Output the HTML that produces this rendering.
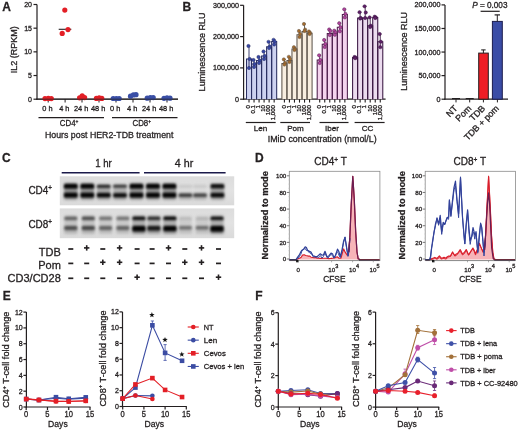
<!DOCTYPE html>
<html><head><meta charset="utf-8"><style>
html,body{margin:0;padding:0;background:#fff;width:520px;height:432px;overflow:hidden}
svg{display:block;filter:blur(0.35px);font-family:"Liberation Sans",sans-serif}
text{stroke:#231f20;stroke-width:0.3px;paint-order:stroke}
</style></head><body>
<svg width="520" height="432" viewBox="0 0 520 432" fill="#231f20">
<text x="2.30" y="10.80" font-size="13.2" font-weight="bold" textLength="8.66" lengthAdjust="spacingAndGlyphs">A</text>
<line x1="37.00" y1="4.50" x2="37.00" y2="99.80" stroke="#231f20" stroke-width="1.2" />
<line x1="33.50" y1="99.20" x2="37.00" y2="99.20" stroke="#231f20" stroke-width="1.2" />
<text x="32.00" y="101.70" font-size="7" text-anchor="end">0</text>
<line x1="33.50" y1="75.53" x2="37.00" y2="75.53" stroke="#231f20" stroke-width="1.2" />
<text x="32.00" y="78.03" font-size="7" text-anchor="end">5</text>
<line x1="33.50" y1="51.85" x2="37.00" y2="51.85" stroke="#231f20" stroke-width="1.2" />
<text x="32.00" y="54.35" font-size="7" text-anchor="end">10</text>
<line x1="33.50" y1="28.17" x2="37.00" y2="28.17" stroke="#231f20" stroke-width="1.2" />
<text x="32.00" y="30.67" font-size="7" text-anchor="end">15</text>
<line x1="33.50" y1="4.50" x2="37.00" y2="4.50" stroke="#231f20" stroke-width="1.2" />
<text x="32.00" y="7.00" font-size="7" text-anchor="end">20</text>
<text x="17.20" y="49.80" font-size="9" text-anchor="middle" transform="rotate(-90 17.20 49.80)">IL2 (RPKM)</text>
<line x1="36.40" y1="99.20" x2="178.00" y2="99.20" stroke="#231f20" stroke-width="1.2" />
<line x1="48.20" y1="99.20" x2="48.20" y2="102.50" stroke="#231f20" stroke-width="1" />
<text x="47.40" y="111.30" font-size="7.4" text-anchor="middle">0 h</text>
<line x1="65.10" y1="99.20" x2="65.10" y2="102.50" stroke="#231f20" stroke-width="1" />
<text x="64.30" y="111.30" font-size="7.4" text-anchor="middle">4 h</text>
<line x1="82.00" y1="99.20" x2="82.00" y2="102.50" stroke="#231f20" stroke-width="1" />
<text x="81.20" y="111.30" font-size="7.4" text-anchor="middle">24 h</text>
<line x1="99.00" y1="99.20" x2="99.00" y2="102.50" stroke="#231f20" stroke-width="1" />
<text x="98.20" y="111.30" font-size="7.4" text-anchor="middle">48 h</text>
<line x1="116.00" y1="99.20" x2="116.00" y2="102.50" stroke="#231f20" stroke-width="1" />
<text x="115.20" y="111.30" font-size="7.4" text-anchor="middle">0 h</text>
<line x1="133.00" y1="99.20" x2="133.00" y2="102.50" stroke="#231f20" stroke-width="1" />
<text x="132.20" y="111.30" font-size="7.4" text-anchor="middle">4 h</text>
<line x1="150.00" y1="99.20" x2="150.00" y2="102.50" stroke="#231f20" stroke-width="1" />
<text x="149.20" y="111.30" font-size="7.4" text-anchor="middle">24 h</text>
<line x1="167.00" y1="99.20" x2="167.00" y2="102.50" stroke="#231f20" stroke-width="1" />
<text x="166.20" y="111.30" font-size="7.4" text-anchor="middle">48 h</text>
<line x1="38.50" y1="117.60" x2="104.00" y2="117.60" stroke="#231f20" stroke-width="1.2" />
<line x1="112.00" y1="117.60" x2="177.50" y2="117.60" stroke="#231f20" stroke-width="1.2" />
<text x="69.10" y="126.40" font-size="8.6" text-anchor="middle" textLength="18.6" lengthAdjust="spacingAndGlyphs">CD4<tspan font-size="5.4" dy="-3.4">+</tspan></text>
<text x="141.80" y="126.40" font-size="8.6" text-anchor="middle" textLength="18.6" lengthAdjust="spacingAndGlyphs">CD8<tspan font-size="5.4" dy="-3.4">+</tspan></text>
<text x="45.00" y="137.90" font-size="9.1" textLength="128.4" lengthAdjust="spacingAndGlyphs">Hours post HER2-TDB treatment</text>
<circle cx="45.00" cy="98.60" r="2.6" fill="#e31f26" />
<circle cx="48.30" cy="98.40" r="2.6" fill="#e31f26" />
<circle cx="51.30" cy="98.60" r="2.6" fill="#e31f26" />
<circle cx="79.60" cy="97.80" r="2.6" fill="#e31f26" />
<circle cx="82.20" cy="95.90" r="2.6" fill="#e31f26" />
<circle cx="84.60" cy="97.60" r="2.6" fill="#e31f26" />
<circle cx="96.40" cy="98.40" r="2.6" fill="#e31f26" />
<circle cx="99.20" cy="97.90" r="2.6" fill="#e31f26" />
<circle cx="101.80" cy="98.40" r="2.6" fill="#e31f26" />
<line x1="58.70" y1="29.30" x2="71.30" y2="29.30" stroke="#231f20" stroke-width="1.1" />
<circle cx="64.80" cy="10.10" r="2.6" fill="#e31f26" />
<circle cx="68.00" cy="29.60" r="2.6" fill="#e31f26" />
<circle cx="62.20" cy="33.40" r="2.6" fill="#e31f26" />
<circle cx="113.20" cy="98.50" r="2.6" fill="#3a4fa6" />
<circle cx="116.30" cy="98.50" r="2.6" fill="#3a4fa6" />
<circle cx="119.20" cy="98.50" r="2.6" fill="#3a4fa6" />
<circle cx="130.50" cy="96.20" r="2.6" fill="#3a4fa6" />
<circle cx="133.40" cy="94.90" r="2.6" fill="#3a4fa6" />
<circle cx="136.00" cy="94.70" r="2.6" fill="#3a4fa6" />
<circle cx="147.20" cy="98.20" r="2.6" fill="#3a4fa6" />
<circle cx="150.30" cy="97.60" r="2.6" fill="#3a4fa6" />
<circle cx="153.20" cy="97.60" r="2.6" fill="#3a4fa6" />
<circle cx="164.00" cy="98.30" r="2.6" fill="#3a4fa6" />
<circle cx="167.00" cy="97.80" r="2.6" fill="#3a4fa6" />
<circle cx="170.00" cy="98.20" r="2.6" fill="#3a4fa6" />
<line x1="36.40" y1="99.20" x2="178.00" y2="99.20" stroke="#231f20" stroke-width="1.0" stroke-opacity="0.75"/>
<text x="182.40" y="10.90" font-size="13.2" font-weight="bold" textLength="8.66" lengthAdjust="spacingAndGlyphs">B</text>
<line x1="243.60" y1="5.30" x2="243.60" y2="99.80" stroke="#231f20" stroke-width="1.2" />
<line x1="240.10" y1="99.20" x2="243.60" y2="99.20" stroke="#231f20" stroke-width="1.2" />
<text x="239.10" y="101.70" font-size="7.2" text-anchor="end">0</text>
<line x1="240.10" y1="67.90" x2="243.60" y2="67.90" stroke="#231f20" stroke-width="1.2" />
<text x="239.10" y="70.40" font-size="7.2" text-anchor="end">100,000</text>
<line x1="240.10" y1="36.60" x2="243.60" y2="36.60" stroke="#231f20" stroke-width="1.2" />
<text x="239.10" y="39.10" font-size="7.2" text-anchor="end">200,000</text>
<line x1="240.10" y1="5.30" x2="243.60" y2="5.30" stroke="#231f20" stroke-width="1.2" />
<text x="239.10" y="7.80" font-size="7.2" text-anchor="end">300,000</text>
<text x="205.40" y="51.90" font-size="9.05" text-anchor="middle" transform="rotate(-90 205.40 51.90)">Luminescence RLU</text>
<line x1="243.00" y1="99.20" x2="385.60" y2="99.20" stroke="#231f20" stroke-width="1.2" />
<rect x="246.50" y="59.00" width="5.03" height="40.20" fill="#cdd2f0" />
<rect x="251.53" y="64.00" width="5.03" height="35.20" fill="#cdd2f0" />
<rect x="256.56" y="60.50" width="5.03" height="38.70" fill="#cdd2f0" />
<rect x="261.59" y="56.00" width="5.03" height="43.20" fill="#cdd2f0" />
<rect x="266.62" y="46.80" width="5.03" height="52.40" fill="#cdd2f0" />
<rect x="271.65" y="41.50" width="5.03" height="57.70" fill="#cdd2f0" />
<path d="M246.50 99.20V59.00H251.53V99.20" fill="none" stroke="#2a2f62" stroke-width="1.05"/>
<path d="M251.53 99.20V64.00H256.56V99.20" fill="none" stroke="#2a2f62" stroke-width="1.05"/>
<path d="M256.56 99.20V60.50H261.59V99.20" fill="none" stroke="#2a2f62" stroke-width="1.05"/>
<path d="M261.59 99.20V56.00H266.62V99.20" fill="none" stroke="#2a2f62" stroke-width="1.05"/>
<path d="M266.62 99.20V46.80H271.65V99.20" fill="none" stroke="#2a2f62" stroke-width="1.05"/>
<path d="M271.65 99.20V41.50H276.68V99.20" fill="none" stroke="#2a2f62" stroke-width="1.05"/>
<line x1="249.01" y1="46.00" x2="249.01" y2="68.00" stroke="#2a2f62" stroke-width="0.9" />
<line x1="247.71" y1="46.00" x2="250.31" y2="46.00" stroke="#2a2f62" stroke-width="0.9" />
<line x1="247.71" y1="68.00" x2="250.31" y2="68.00" stroke="#2a2f62" stroke-width="0.9" />
<circle cx="248.41" cy="46.00" r="1.65" fill="#3848a5" stroke="#2a2f62" stroke-width="0.45"/>
<circle cx="249.61" cy="59.00" r="1.65" fill="#3848a5" stroke="#2a2f62" stroke-width="0.45"/>
<circle cx="249.01" cy="68.00" r="1.65" fill="#3848a5" stroke="#2a2f62" stroke-width="0.45"/>
<line x1="249.01" y1="99.20" x2="249.01" y2="102.60" stroke="#231f20" stroke-width="1.1" />
<text x="250.31" y="105.00" font-size="6.1" text-anchor="end" transform="rotate(-90 250.31 105.00)">0</text>
<line x1="254.04" y1="60.00" x2="254.04" y2="67.00" stroke="#2a2f62" stroke-width="0.9" />
<line x1="252.74" y1="60.00" x2="255.34" y2="60.00" stroke="#2a2f62" stroke-width="0.9" />
<line x1="252.74" y1="67.00" x2="255.34" y2="67.00" stroke="#2a2f62" stroke-width="0.9" />
<circle cx="253.44" cy="60.00" r="1.65" fill="#3848a5" stroke="#2a2f62" stroke-width="0.45"/>
<circle cx="254.64" cy="64.00" r="1.65" fill="#3848a5" stroke="#2a2f62" stroke-width="0.45"/>
<circle cx="254.04" cy="67.00" r="1.65" fill="#3848a5" stroke="#2a2f62" stroke-width="0.45"/>
<line x1="254.04" y1="99.20" x2="254.04" y2="102.60" stroke="#231f20" stroke-width="1.1" />
<text x="255.34" y="105.00" font-size="6.1" text-anchor="end" transform="rotate(-90 255.34 105.00)">0.1</text>
<line x1="259.07" y1="57.00" x2="259.07" y2="63.00" stroke="#2a2f62" stroke-width="0.9" />
<line x1="257.77" y1="57.00" x2="260.38" y2="57.00" stroke="#2a2f62" stroke-width="0.9" />
<line x1="257.77" y1="63.00" x2="260.38" y2="63.00" stroke="#2a2f62" stroke-width="0.9" />
<circle cx="258.47" cy="57.00" r="1.65" fill="#3848a5" stroke="#2a2f62" stroke-width="0.45"/>
<circle cx="259.68" cy="60.50" r="1.65" fill="#3848a5" stroke="#2a2f62" stroke-width="0.45"/>
<circle cx="259.07" cy="63.00" r="1.65" fill="#3848a5" stroke="#2a2f62" stroke-width="0.45"/>
<line x1="259.07" y1="99.20" x2="259.07" y2="102.60" stroke="#231f20" stroke-width="1.1" />
<text x="260.38" y="105.00" font-size="6.1" text-anchor="end" transform="rotate(-90 260.38 105.00)">1</text>
<line x1="264.10" y1="51.50" x2="264.10" y2="59.00" stroke="#2a2f62" stroke-width="0.9" />
<line x1="262.80" y1="51.50" x2="265.40" y2="51.50" stroke="#2a2f62" stroke-width="0.9" />
<line x1="262.80" y1="59.00" x2="265.40" y2="59.00" stroke="#2a2f62" stroke-width="0.9" />
<circle cx="263.50" cy="51.50" r="1.65" fill="#3848a5" stroke="#2a2f62" stroke-width="0.45"/>
<circle cx="264.70" cy="56.00" r="1.65" fill="#3848a5" stroke="#2a2f62" stroke-width="0.45"/>
<circle cx="264.10" cy="59.00" r="1.65" fill="#3848a5" stroke="#2a2f62" stroke-width="0.45"/>
<line x1="264.10" y1="99.20" x2="264.10" y2="102.60" stroke="#231f20" stroke-width="1.1" />
<text x="265.40" y="105.00" font-size="6.1" text-anchor="end" transform="rotate(-90 265.40 105.00)">10</text>
<line x1="269.13" y1="41.80" x2="269.13" y2="48.00" stroke="#2a2f62" stroke-width="0.9" />
<line x1="267.83" y1="41.80" x2="270.44" y2="41.80" stroke="#2a2f62" stroke-width="0.9" />
<line x1="267.83" y1="48.00" x2="270.44" y2="48.00" stroke="#2a2f62" stroke-width="0.9" />
<circle cx="268.53" cy="41.80" r="1.65" fill="#3848a5" stroke="#2a2f62" stroke-width="0.45"/>
<circle cx="269.74" cy="46.50" r="1.65" fill="#3848a5" stroke="#2a2f62" stroke-width="0.45"/>
<circle cx="269.13" cy="48.00" r="1.65" fill="#3848a5" stroke="#2a2f62" stroke-width="0.45"/>
<line x1="269.13" y1="99.20" x2="269.13" y2="102.60" stroke="#231f20" stroke-width="1.1" />
<text x="270.44" y="105.00" font-size="6.1" text-anchor="end" transform="rotate(-90 270.44 105.00)">100</text>
<line x1="274.16" y1="39.80" x2="274.16" y2="44.50" stroke="#2a2f62" stroke-width="0.9" />
<line x1="272.86" y1="39.80" x2="275.46" y2="39.80" stroke="#2a2f62" stroke-width="0.9" />
<line x1="272.86" y1="44.50" x2="275.46" y2="44.50" stroke="#2a2f62" stroke-width="0.9" />
<circle cx="273.56" cy="39.80" r="1.65" fill="#3848a5" stroke="#2a2f62" stroke-width="0.45"/>
<circle cx="274.76" cy="41.60" r="1.65" fill="#3848a5" stroke="#2a2f62" stroke-width="0.45"/>
<circle cx="274.16" cy="44.50" r="1.65" fill="#3848a5" stroke="#2a2f62" stroke-width="0.45"/>
<line x1="274.16" y1="99.20" x2="274.16" y2="102.60" stroke="#231f20" stroke-width="1.1" />
<text x="275.46" y="105.00" font-size="6.1" text-anchor="end" transform="rotate(-90 275.46 105.00)">1,000</text>
<line x1="245.80" y1="122.50" x2="275.70" y2="122.50" stroke="#231f20" stroke-width="1.2" />
<text x="260.50" y="131.20" font-size="8.1" text-anchor="middle">Len</text>
<rect x="281.90" y="63.40" width="5.03" height="35.80" fill="#f8eee0" />
<rect x="286.93" y="60.50" width="5.03" height="38.70" fill="#f8eee0" />
<rect x="291.96" y="49.00" width="5.03" height="50.20" fill="#f8eee0" />
<rect x="296.99" y="34.80" width="5.03" height="64.40" fill="#f8eee0" />
<rect x="302.02" y="31.60" width="5.03" height="67.60" fill="#f8eee0" />
<rect x="307.05" y="33.30" width="5.03" height="65.90" fill="#f8eee0" />
<path d="M281.90 99.20V63.40H286.93V99.20" fill="none" stroke="#5e554c" stroke-width="1.05"/>
<path d="M286.93 99.20V60.50H291.96V99.20" fill="none" stroke="#5e554c" stroke-width="1.05"/>
<path d="M291.96 99.20V49.00H296.99V99.20" fill="none" stroke="#5e554c" stroke-width="1.05"/>
<path d="M296.99 99.20V34.80H302.02V99.20" fill="none" stroke="#5e554c" stroke-width="1.05"/>
<path d="M302.02 99.20V31.60H307.05V99.20" fill="none" stroke="#5e554c" stroke-width="1.05"/>
<path d="M307.05 99.20V33.30H312.08V99.20" fill="none" stroke="#5e554c" stroke-width="1.05"/>
<line x1="284.41" y1="59.40" x2="284.41" y2="64.60" stroke="#5e554c" stroke-width="0.9" />
<line x1="283.11" y1="59.40" x2="285.71" y2="59.40" stroke="#5e554c" stroke-width="0.9" />
<line x1="283.11" y1="64.60" x2="285.71" y2="64.60" stroke="#5e554c" stroke-width="0.9" />
<circle cx="283.81" cy="59.40" r="1.65" fill="#a46b2c" stroke="#5e554c" stroke-width="0.45"/>
<circle cx="285.01" cy="63.00" r="1.65" fill="#a46b2c" stroke="#5e554c" stroke-width="0.45"/>
<circle cx="284.41" cy="64.60" r="1.65" fill="#a46b2c" stroke="#5e554c" stroke-width="0.45"/>
<line x1="284.41" y1="99.20" x2="284.41" y2="102.60" stroke="#231f20" stroke-width="1.1" />
<text x="285.71" y="105.00" font-size="6.1" text-anchor="end" transform="rotate(-90 285.71 105.00)">0</text>
<line x1="289.44" y1="56.80" x2="289.44" y2="62.00" stroke="#5e554c" stroke-width="0.9" />
<line x1="288.14" y1="56.80" x2="290.74" y2="56.80" stroke="#5e554c" stroke-width="0.9" />
<line x1="288.14" y1="62.00" x2="290.74" y2="62.00" stroke="#5e554c" stroke-width="0.9" />
<circle cx="288.84" cy="56.80" r="1.65" fill="#a46b2c" stroke="#5e554c" stroke-width="0.45"/>
<circle cx="290.04" cy="59.00" r="1.65" fill="#a46b2c" stroke="#5e554c" stroke-width="0.45"/>
<circle cx="289.44" cy="62.00" r="1.65" fill="#a46b2c" stroke="#5e554c" stroke-width="0.45"/>
<line x1="289.44" y1="99.20" x2="289.44" y2="102.60" stroke="#231f20" stroke-width="1.1" />
<text x="290.74" y="105.00" font-size="6.1" text-anchor="end" transform="rotate(-90 290.74 105.00)">0.1</text>
<line x1="294.47" y1="47.20" x2="294.47" y2="50.00" stroke="#5e554c" stroke-width="0.9" />
<line x1="293.17" y1="47.20" x2="295.77" y2="47.20" stroke="#5e554c" stroke-width="0.9" />
<line x1="293.17" y1="50.00" x2="295.77" y2="50.00" stroke="#5e554c" stroke-width="0.9" />
<circle cx="293.87" cy="47.20" r="1.65" fill="#a46b2c" stroke="#5e554c" stroke-width="0.45"/>
<circle cx="295.07" cy="49.00" r="1.65" fill="#a46b2c" stroke="#5e554c" stroke-width="0.45"/>
<circle cx="294.47" cy="50.00" r="1.65" fill="#a46b2c" stroke="#5e554c" stroke-width="0.45"/>
<line x1="294.47" y1="99.20" x2="294.47" y2="102.60" stroke="#231f20" stroke-width="1.1" />
<text x="295.77" y="105.00" font-size="6.1" text-anchor="end" transform="rotate(-90 295.77 105.00)">1</text>
<line x1="299.50" y1="31.00" x2="299.50" y2="37.00" stroke="#5e554c" stroke-width="0.9" />
<line x1="298.20" y1="31.00" x2="300.80" y2="31.00" stroke="#5e554c" stroke-width="0.9" />
<line x1="298.20" y1="37.00" x2="300.80" y2="37.00" stroke="#5e554c" stroke-width="0.9" />
<circle cx="298.90" cy="31.00" r="1.65" fill="#a46b2c" stroke="#5e554c" stroke-width="0.45"/>
<circle cx="300.10" cy="34.00" r="1.65" fill="#a46b2c" stroke="#5e554c" stroke-width="0.45"/>
<circle cx="299.50" cy="37.00" r="1.65" fill="#a46b2c" stroke="#5e554c" stroke-width="0.45"/>
<line x1="299.50" y1="99.20" x2="299.50" y2="102.60" stroke="#231f20" stroke-width="1.1" />
<text x="300.80" y="105.00" font-size="6.1" text-anchor="end" transform="rotate(-90 300.80 105.00)">10</text>
<line x1="304.53" y1="24.00" x2="304.53" y2="31.00" stroke="#5e554c" stroke-width="0.9" />
<line x1="303.23" y1="24.00" x2="305.83" y2="24.00" stroke="#5e554c" stroke-width="0.9" />
<line x1="303.23" y1="31.00" x2="305.83" y2="31.00" stroke="#5e554c" stroke-width="0.9" />
<circle cx="303.93" cy="24.00" r="1.65" fill="#a46b2c" stroke="#5e554c" stroke-width="0.45"/>
<circle cx="305.13" cy="29.60" r="1.65" fill="#a46b2c" stroke="#5e554c" stroke-width="0.45"/>
<circle cx="304.53" cy="31.00" r="1.65" fill="#a46b2c" stroke="#5e554c" stroke-width="0.45"/>
<line x1="304.53" y1="99.20" x2="304.53" y2="102.60" stroke="#231f20" stroke-width="1.1" />
<text x="305.83" y="105.00" font-size="6.1" text-anchor="end" transform="rotate(-90 305.83 105.00)">100</text>
<line x1="309.56" y1="31.50" x2="309.56" y2="34.00" stroke="#5e554c" stroke-width="0.9" />
<line x1="308.26" y1="31.50" x2="310.86" y2="31.50" stroke="#5e554c" stroke-width="0.9" />
<line x1="308.26" y1="34.00" x2="310.86" y2="34.00" stroke="#5e554c" stroke-width="0.9" />
<circle cx="308.96" cy="31.50" r="1.65" fill="#a46b2c" stroke="#5e554c" stroke-width="0.45"/>
<circle cx="310.16" cy="33.00" r="1.65" fill="#a46b2c" stroke="#5e554c" stroke-width="0.45"/>
<circle cx="309.56" cy="34.00" r="1.65" fill="#a46b2c" stroke="#5e554c" stroke-width="0.45"/>
<line x1="309.56" y1="99.20" x2="309.56" y2="102.60" stroke="#231f20" stroke-width="1.1" />
<text x="310.86" y="105.00" font-size="6.1" text-anchor="end" transform="rotate(-90 310.86 105.00)">1,000</text>
<line x1="280.30" y1="122.50" x2="310.00" y2="122.50" stroke="#231f20" stroke-width="1.2" />
<text x="295.50" y="131.20" font-size="8.1" text-anchor="middle">Pom</text>
<rect x="317.20" y="60.00" width="5.03" height="39.20" fill="#f4d4ee" />
<rect x="322.23" y="44.30" width="5.03" height="54.90" fill="#f4d4ee" />
<rect x="327.26" y="33.50" width="5.03" height="65.70" fill="#f4d4ee" />
<rect x="332.29" y="33.00" width="5.03" height="66.20" fill="#f4d4ee" />
<rect x="337.32" y="27.20" width="5.03" height="72.00" fill="#f4d4ee" />
<rect x="342.35" y="14.50" width="5.03" height="84.70" fill="#f4d4ee" />
<path d="M317.20 99.20V60.00H322.23V99.20" fill="none" stroke="#4e1e4c" stroke-width="1.05"/>
<path d="M322.23 99.20V44.30H327.26V99.20" fill="none" stroke="#4e1e4c" stroke-width="1.05"/>
<path d="M327.26 99.20V33.50H332.29V99.20" fill="none" stroke="#4e1e4c" stroke-width="1.05"/>
<path d="M332.29 99.20V33.00H337.32V99.20" fill="none" stroke="#4e1e4c" stroke-width="1.05"/>
<path d="M337.32 99.20V27.20H342.35V99.20" fill="none" stroke="#4e1e4c" stroke-width="1.05"/>
<path d="M342.35 99.20V14.50H347.38V99.20" fill="none" stroke="#4e1e4c" stroke-width="1.05"/>
<line x1="319.71" y1="55.30" x2="319.71" y2="63.00" stroke="#4e1e4c" stroke-width="0.9" />
<line x1="318.41" y1="55.30" x2="321.01" y2="55.30" stroke="#4e1e4c" stroke-width="0.9" />
<line x1="318.41" y1="63.00" x2="321.01" y2="63.00" stroke="#4e1e4c" stroke-width="0.9" />
<circle cx="319.11" cy="55.30" r="1.65" fill="#b0449c" stroke="#4e1e4c" stroke-width="0.45"/>
<circle cx="320.31" cy="60.00" r="1.65" fill="#b0449c" stroke="#4e1e4c" stroke-width="0.45"/>
<circle cx="319.71" cy="63.00" r="1.65" fill="#b0449c" stroke="#4e1e4c" stroke-width="0.45"/>
<line x1="319.71" y1="99.20" x2="319.71" y2="102.60" stroke="#231f20" stroke-width="1.1" />
<text x="321.01" y="105.00" font-size="6.1" text-anchor="end" transform="rotate(-90 321.01 105.00)">0</text>
<line x1="324.74" y1="40.00" x2="324.74" y2="47.00" stroke="#4e1e4c" stroke-width="0.9" />
<line x1="323.44" y1="40.00" x2="326.04" y2="40.00" stroke="#4e1e4c" stroke-width="0.9" />
<line x1="323.44" y1="47.00" x2="326.04" y2="47.00" stroke="#4e1e4c" stroke-width="0.9" />
<circle cx="324.14" cy="40.00" r="1.65" fill="#b0449c" stroke="#4e1e4c" stroke-width="0.45"/>
<circle cx="325.34" cy="44.00" r="1.65" fill="#b0449c" stroke="#4e1e4c" stroke-width="0.45"/>
<circle cx="324.74" cy="47.00" r="1.65" fill="#b0449c" stroke="#4e1e4c" stroke-width="0.45"/>
<line x1="324.74" y1="99.20" x2="324.74" y2="102.60" stroke="#231f20" stroke-width="1.1" />
<text x="326.04" y="105.00" font-size="6.1" text-anchor="end" transform="rotate(-90 326.04 105.00)">0.1</text>
<line x1="329.77" y1="29.50" x2="329.77" y2="35.00" stroke="#4e1e4c" stroke-width="0.9" />
<line x1="328.47" y1="29.50" x2="331.07" y2="29.50" stroke="#4e1e4c" stroke-width="0.9" />
<line x1="328.47" y1="35.00" x2="331.07" y2="35.00" stroke="#4e1e4c" stroke-width="0.9" />
<circle cx="329.17" cy="29.50" r="1.65" fill="#b0449c" stroke="#4e1e4c" stroke-width="0.45"/>
<circle cx="330.38" cy="31.00" r="1.65" fill="#b0449c" stroke="#4e1e4c" stroke-width="0.45"/>
<circle cx="329.77" cy="35.00" r="1.65" fill="#b0449c" stroke="#4e1e4c" stroke-width="0.45"/>
<line x1="329.77" y1="99.20" x2="329.77" y2="102.60" stroke="#231f20" stroke-width="1.1" />
<text x="331.07" y="105.00" font-size="6.1" text-anchor="end" transform="rotate(-90 331.07 105.00)">1</text>
<line x1="334.80" y1="30.70" x2="334.80" y2="34.80" stroke="#4e1e4c" stroke-width="0.9" />
<line x1="333.50" y1="30.70" x2="336.10" y2="30.70" stroke="#4e1e4c" stroke-width="0.9" />
<line x1="333.50" y1="34.80" x2="336.10" y2="34.80" stroke="#4e1e4c" stroke-width="0.9" />
<circle cx="334.20" cy="30.70" r="1.65" fill="#b0449c" stroke="#4e1e4c" stroke-width="0.45"/>
<circle cx="335.40" cy="32.40" r="1.65" fill="#b0449c" stroke="#4e1e4c" stroke-width="0.45"/>
<circle cx="334.80" cy="34.80" r="1.65" fill="#b0449c" stroke="#4e1e4c" stroke-width="0.45"/>
<line x1="334.80" y1="99.20" x2="334.80" y2="102.60" stroke="#231f20" stroke-width="1.1" />
<text x="336.10" y="105.00" font-size="6.1" text-anchor="end" transform="rotate(-90 336.10 105.00)">10</text>
<line x1="339.83" y1="23.20" x2="339.83" y2="31.30" stroke="#4e1e4c" stroke-width="0.9" />
<line x1="338.53" y1="23.20" x2="341.13" y2="23.20" stroke="#4e1e4c" stroke-width="0.9" />
<line x1="338.53" y1="31.30" x2="341.13" y2="31.30" stroke="#4e1e4c" stroke-width="0.9" />
<circle cx="339.23" cy="23.20" r="1.65" fill="#b0449c" stroke="#4e1e4c" stroke-width="0.45"/>
<circle cx="340.44" cy="27.20" r="1.65" fill="#b0449c" stroke="#4e1e4c" stroke-width="0.45"/>
<circle cx="339.83" cy="31.30" r="1.65" fill="#b0449c" stroke="#4e1e4c" stroke-width="0.45"/>
<line x1="339.83" y1="99.20" x2="339.83" y2="102.60" stroke="#231f20" stroke-width="1.1" />
<text x="341.13" y="105.00" font-size="6.1" text-anchor="end" transform="rotate(-90 341.13 105.00)">100</text>
<line x1="344.86" y1="9.30" x2="344.86" y2="17.40" stroke="#4e1e4c" stroke-width="0.9" />
<line x1="343.56" y1="9.30" x2="346.16" y2="9.30" stroke="#4e1e4c" stroke-width="0.9" />
<line x1="343.56" y1="17.40" x2="346.16" y2="17.40" stroke="#4e1e4c" stroke-width="0.9" />
<circle cx="344.26" cy="9.30" r="1.65" fill="#b0449c" stroke="#4e1e4c" stroke-width="0.45"/>
<circle cx="345.46" cy="13.90" r="1.65" fill="#b0449c" stroke="#4e1e4c" stroke-width="0.45"/>
<circle cx="344.86" cy="17.40" r="1.65" fill="#b0449c" stroke="#4e1e4c" stroke-width="0.45"/>
<line x1="344.86" y1="99.20" x2="344.86" y2="102.60" stroke="#231f20" stroke-width="1.1" />
<text x="346.16" y="105.00" font-size="6.1" text-anchor="end" transform="rotate(-90 346.16 105.00)">1,000</text>
<line x1="319.50" y1="122.50" x2="348.50" y2="122.50" stroke="#231f20" stroke-width="1.2" />
<text x="332.00" y="131.20" font-size="8.1" text-anchor="middle">Iber</text>
<rect x="352.60" y="57.60" width="5.03" height="41.60" fill="#ecdcef" />
<rect x="357.63" y="18.00" width="5.03" height="81.20" fill="#ecdcef" />
<rect x="362.66" y="18.00" width="5.03" height="81.20" fill="#ecdcef" />
<rect x="367.69" y="25.70" width="5.03" height="73.50" fill="#ecdcef" />
<rect x="372.72" y="17.40" width="5.03" height="81.80" fill="#ecdcef" />
<rect x="377.75" y="41.70" width="5.03" height="57.50" fill="#ecdcef" />
<path d="M352.60 99.20V57.60H357.63V99.20" fill="none" stroke="#3a1742" stroke-width="1.05"/>
<path d="M357.63 99.20V18.00H362.66V99.20" fill="none" stroke="#3a1742" stroke-width="1.05"/>
<path d="M362.66 99.20V18.00H367.69V99.20" fill="none" stroke="#3a1742" stroke-width="1.05"/>
<path d="M367.69 99.20V25.70H372.72V99.20" fill="none" stroke="#3a1742" stroke-width="1.05"/>
<path d="M372.72 99.20V17.40H377.75V99.20" fill="none" stroke="#3a1742" stroke-width="1.05"/>
<path d="M377.75 99.20V41.70H382.78V99.20" fill="none" stroke="#3a1742" stroke-width="1.05"/>
<line x1="355.12" y1="57.00" x2="355.12" y2="58.20" stroke="#3a1742" stroke-width="0.9" />
<line x1="353.81" y1="57.00" x2="356.42" y2="57.00" stroke="#3a1742" stroke-width="0.9" />
<line x1="353.81" y1="58.20" x2="356.42" y2="58.20" stroke="#3a1742" stroke-width="0.9" />
<circle cx="354.51" cy="57.00" r="1.65" fill="#5e2066" stroke="#3a1742" stroke-width="0.45"/>
<circle cx="355.72" cy="57.60" r="1.65" fill="#5e2066" stroke="#3a1742" stroke-width="0.45"/>
<circle cx="355.12" cy="58.20" r="1.65" fill="#5e2066" stroke="#3a1742" stroke-width="0.45"/>
<line x1="355.12" y1="99.20" x2="355.12" y2="102.60" stroke="#231f20" stroke-width="1.1" />
<text x="356.42" y="105.00" font-size="6.1" text-anchor="end" transform="rotate(-90 356.42 105.00)">0</text>
<line x1="360.14" y1="12.20" x2="360.14" y2="18.50" stroke="#3a1742" stroke-width="0.9" />
<line x1="358.84" y1="12.20" x2="361.44" y2="12.20" stroke="#3a1742" stroke-width="0.9" />
<line x1="358.84" y1="18.50" x2="361.44" y2="18.50" stroke="#3a1742" stroke-width="0.9" />
<circle cx="359.54" cy="12.20" r="1.65" fill="#5e2066" stroke="#3a1742" stroke-width="0.45"/>
<circle cx="360.75" cy="18.00" r="1.65" fill="#5e2066" stroke="#3a1742" stroke-width="0.45"/>
<circle cx="360.14" cy="18.50" r="1.65" fill="#5e2066" stroke="#3a1742" stroke-width="0.45"/>
<line x1="360.14" y1="99.20" x2="360.14" y2="102.60" stroke="#231f20" stroke-width="1.1" />
<text x="361.44" y="105.00" font-size="6.1" text-anchor="end" transform="rotate(-90 361.44 105.00)">0.1</text>
<line x1="365.18" y1="6.30" x2="365.18" y2="18.00" stroke="#3a1742" stroke-width="0.9" />
<line x1="363.88" y1="6.30" x2="366.48" y2="6.30" stroke="#3a1742" stroke-width="0.9" />
<line x1="363.88" y1="18.00" x2="366.48" y2="18.00" stroke="#3a1742" stroke-width="0.9" />
<circle cx="364.57" cy="6.30" r="1.65" fill="#5e2066" stroke="#3a1742" stroke-width="0.45"/>
<circle cx="365.78" cy="12.50" r="1.65" fill="#5e2066" stroke="#3a1742" stroke-width="0.45"/>
<circle cx="365.18" cy="18.00" r="1.65" fill="#5e2066" stroke="#3a1742" stroke-width="0.45"/>
<line x1="365.18" y1="99.20" x2="365.18" y2="102.60" stroke="#231f20" stroke-width="1.1" />
<text x="366.48" y="105.00" font-size="6.1" text-anchor="end" transform="rotate(-90 366.48 105.00)">1</text>
<line x1="370.20" y1="17.40" x2="370.20" y2="27.00" stroke="#3a1742" stroke-width="0.9" />
<line x1="368.90" y1="17.40" x2="371.50" y2="17.40" stroke="#3a1742" stroke-width="0.9" />
<line x1="368.90" y1="27.00" x2="371.50" y2="27.00" stroke="#3a1742" stroke-width="0.9" />
<circle cx="369.60" cy="17.40" r="1.65" fill="#5e2066" stroke="#3a1742" stroke-width="0.45"/>
<circle cx="370.81" cy="25.70" r="1.65" fill="#5e2066" stroke="#3a1742" stroke-width="0.45"/>
<circle cx="370.20" cy="27.00" r="1.65" fill="#5e2066" stroke="#3a1742" stroke-width="0.45"/>
<line x1="370.20" y1="99.20" x2="370.20" y2="102.60" stroke="#231f20" stroke-width="1.1" />
<text x="371.50" y="105.00" font-size="6.1" text-anchor="end" transform="rotate(-90 371.50 105.00)">10</text>
<line x1="375.24" y1="16.70" x2="375.24" y2="18.00" stroke="#3a1742" stroke-width="0.9" />
<line x1="373.94" y1="16.70" x2="376.54" y2="16.70" stroke="#3a1742" stroke-width="0.9" />
<line x1="373.94" y1="18.00" x2="376.54" y2="18.00" stroke="#3a1742" stroke-width="0.9" />
<circle cx="374.63" cy="16.70" r="1.65" fill="#5e2066" stroke="#3a1742" stroke-width="0.45"/>
<circle cx="375.84" cy="17.40" r="1.65" fill="#5e2066" stroke="#3a1742" stroke-width="0.45"/>
<circle cx="375.24" cy="18.00" r="1.65" fill="#5e2066" stroke="#3a1742" stroke-width="0.45"/>
<line x1="375.24" y1="99.20" x2="375.24" y2="102.60" stroke="#231f20" stroke-width="1.1" />
<text x="376.54" y="105.00" font-size="6.1" text-anchor="end" transform="rotate(-90 376.54 105.00)">100</text>
<line x1="380.26" y1="34.00" x2="380.26" y2="47.20" stroke="#3a1742" stroke-width="0.9" />
<line x1="378.96" y1="34.00" x2="381.56" y2="34.00" stroke="#3a1742" stroke-width="0.9" />
<line x1="378.96" y1="47.20" x2="381.56" y2="47.20" stroke="#3a1742" stroke-width="0.9" />
<circle cx="379.66" cy="34.00" r="1.65" fill="#5e2066" stroke="#3a1742" stroke-width="0.45"/>
<circle cx="380.87" cy="41.70" r="1.65" fill="#5e2066" stroke="#3a1742" stroke-width="0.45"/>
<circle cx="380.26" cy="47.20" r="1.65" fill="#5e2066" stroke="#3a1742" stroke-width="0.45"/>
<line x1="380.26" y1="99.20" x2="380.26" y2="102.60" stroke="#231f20" stroke-width="1.1" />
<text x="381.56" y="105.00" font-size="6.1" text-anchor="end" transform="rotate(-90 381.56 105.00)">1,000</text>
<line x1="354.60" y1="122.50" x2="384.60" y2="122.50" stroke="#231f20" stroke-width="1.2" />
<text x="367.60" y="131.20" font-size="8.1" text-anchor="middle">CC</text>
<text x="267.70" y="142.20" font-size="8.9">IMiD concentration (nmol/L)</text>
<line x1="445.00" y1="4.90" x2="445.00" y2="99.80" stroke="#231f20" stroke-width="1.2" />
<line x1="441.50" y1="99.20" x2="445.00" y2="99.20" stroke="#231f20" stroke-width="1.2" />
<text x="440.50" y="101.70" font-size="7.2" text-anchor="end">0</text>
<line x1="441.50" y1="75.62" x2="445.00" y2="75.62" stroke="#231f20" stroke-width="1.2" />
<text x="440.50" y="78.12" font-size="7.2" text-anchor="end">50,000</text>
<line x1="441.50" y1="52.05" x2="445.00" y2="52.05" stroke="#231f20" stroke-width="1.2" />
<text x="440.50" y="54.55" font-size="7.2" text-anchor="end">100,000</text>
<line x1="441.50" y1="28.48" x2="445.00" y2="28.48" stroke="#231f20" stroke-width="1.2" />
<text x="440.50" y="30.98" font-size="7.2" text-anchor="end">150,000</text>
<line x1="441.50" y1="4.90" x2="445.00" y2="4.90" stroke="#231f20" stroke-width="1.2" />
<text x="440.50" y="7.40" font-size="7.2" text-anchor="end">200,000</text>
<text x="407.50" y="51.35" font-size="9.05" text-anchor="middle" transform="rotate(-90 407.50 51.35)">Luminescence RLU</text>
<line x1="444.40" y1="99.20" x2="508.00" y2="99.20" stroke="#231f20" stroke-width="1.2" />
<line x1="456.00" y1="99.20" x2="456.00" y2="102.40" stroke="#231f20" stroke-width="1" />
<line x1="469.70" y1="99.20" x2="469.70" y2="102.40" stroke="#231f20" stroke-width="1" />
<line x1="483.40" y1="99.20" x2="483.40" y2="102.40" stroke="#231f20" stroke-width="1" />
<line x1="497.40" y1="99.20" x2="497.40" y2="102.40" stroke="#231f20" stroke-width="1" />
<line x1="452.00" y1="98.60" x2="460.00" y2="98.60" stroke="#231f20" stroke-width="1.2" />
<line x1="465.70" y1="98.60" x2="473.70" y2="98.60" stroke="#231f20" stroke-width="1.2" />
<rect x="478.7" y="53.1" width="9.6" height="46.10" fill="#ee1d25" stroke="#231f20" stroke-width="1"/>
<line x1="483.40" y1="49.90" x2="483.40" y2="53.10" stroke="#231f20" stroke-width="1" />
<line x1="481.20" y1="49.90" x2="485.60" y2="49.90" stroke="#231f20" stroke-width="1.1" />
<rect x="492.4" y="21.4" width="9.9" height="77.80" fill="#3a4ca6" stroke="#1c1c4c" stroke-width="1"/>
<line x1="497.30" y1="14.90" x2="497.30" y2="21.40" stroke="#231f20" stroke-width="1" />
<line x1="494.60" y1="14.90" x2="500.00" y2="14.90" stroke="#231f20" stroke-width="1.2" />
<line x1="480.60" y1="11.30" x2="499.70" y2="11.30" stroke="#231f20" stroke-width="1.2" />
<text x="472.20" y="7.70" font-size="8.2"><tspan font-style="italic">P</tspan> = 0.003</text>
<text x="458.20" y="109.00" font-size="8.9" text-anchor="end" transform="rotate(-45 458.20 109.00)">NT</text>
<text x="471.90" y="109.00" font-size="8.9" text-anchor="end" transform="rotate(-45 471.90 109.00)">Pom</text>
<text x="485.60" y="109.00" font-size="8.9" text-anchor="end" transform="rotate(-45 485.60 109.00)">TDB</text>
<text x="499.60" y="109.00" font-size="8.9" text-anchor="end" transform="rotate(-45 499.60 109.00)">TDB + pom</text>
<text x="1.90" y="162.00" font-size="13.2" font-weight="bold" textLength="8.66" lengthAdjust="spacingAndGlyphs">C</text>
<text x="103.50" y="166.50" font-size="10.4" text-anchor="middle" textLength="16.6" lengthAdjust="spacingAndGlyphs">1 hr</text>
<text x="184.00" y="166.50" font-size="10.4" text-anchor="middle" textLength="18.4" lengthAdjust="spacingAndGlyphs">4 hr</text>
<line x1="61.70" y1="172.70" x2="139.60" y2="172.70" stroke="#1b1a4a" stroke-width="1.4" />
<line x1="144.00" y1="172.70" x2="225.60" y2="172.70" stroke="#1b1a4a" stroke-width="1.4" />
<text x="28.40" y="193.80" font-size="10.4" textLength="23.6" lengthAdjust="spacingAndGlyphs">CD4<tspan font-size="6.6" dy="-3.9">+</tspan></text>
<text x="28.40" y="228.10" font-size="10.4" textLength="23.6" lengthAdjust="spacingAndGlyphs">CD8<tspan font-size="6.6" dy="-3.9">+</tspan></text>
<defs><filter id="bl" x="-30%" y="-80%" width="160%" height="260%"><feGaussianBlur stdDeviation="0.8"/></filter><filter id="bl2" x="-30%" y="-80%" width="160%" height="260%"><feGaussianBlur stdDeviation="1.6"/></filter><linearGradient id="blotbg" x1="0" y1="0" x2="0" y2="1"><stop offset="0" stop-color="#dcdcdc"/><stop offset="0.5" stop-color="#e2e2e2"/><stop offset="1" stop-color="#dadada"/></linearGradient></defs>
<rect x="59.80" y="176.30" width="174.40" height="29.00" fill="url(#blotbg)" />
<rect x="59.80" y="208.40" width="174.40" height="29.80" fill="url(#blotbg)" />
<rect x="64.00" y="186.5" width="13.6" height="8" fill="#000" fill-opacity="0.280" filter="url(#bl)"/>
<rect x="64.20" y="195" width="13.2" height="5" fill="#000" fill-opacity="0.220" filter="url(#bl2)"/>
<rect x="63.50" y="182.30" width="14.60" height="7.80" rx="2" fill="#000" fill-opacity="0.200" filter="url(#bl2)"/>
<rect x="64.00" y="183.80" width="13.60" height="4.80" rx="1.6" fill="#000" fill-opacity="0.970" filter="url(#bl)"/>
<rect x="63.50" y="191.30" width="14.60" height="7.80" rx="2" fill="#000" fill-opacity="0.200" filter="url(#bl2)"/>
<rect x="64.00" y="192.80" width="13.60" height="4.80" rx="1.6" fill="#000" fill-opacity="0.970" filter="url(#bl)"/>
<rect x="64.20" y="219" width="13.2" height="9" fill="#000" fill-opacity="0.110" filter="url(#bl)"/>
<rect x="64.20" y="228" width="13.2" height="6" fill="#000" fill-opacity="0.165" filter="url(#bl2)"/>
<rect x="63.80" y="214.90" width="14.00" height="6.60" rx="2" fill="#000" fill-opacity="0.100" filter="url(#bl2)"/>
<rect x="64.30" y="216.40" width="13.00" height="3.60" rx="1.6" fill="#000" fill-opacity="0.485" filter="url(#bl)"/>
<rect x="63.80" y="224.40" width="14.00" height="7.20" rx="2" fill="#000" fill-opacity="0.110" filter="url(#bl2)"/>
<rect x="64.30" y="225.90" width="13.00" height="4.20" rx="1.6" fill="#000" fill-opacity="0.533" filter="url(#bl)"/>
<rect x="80.50" y="186.5" width="13.6" height="8" fill="#000" fill-opacity="0.280" filter="url(#bl)"/>
<rect x="80.70" y="195" width="13.2" height="5" fill="#000" fill-opacity="0.220" filter="url(#bl2)"/>
<rect x="80.00" y="182.30" width="14.60" height="7.80" rx="2" fill="#000" fill-opacity="0.200" filter="url(#bl2)"/>
<rect x="80.50" y="183.80" width="13.60" height="4.80" rx="1.6" fill="#000" fill-opacity="0.970" filter="url(#bl)"/>
<rect x="80.00" y="191.30" width="14.60" height="7.80" rx="2" fill="#000" fill-opacity="0.200" filter="url(#bl2)"/>
<rect x="80.50" y="192.80" width="13.60" height="4.80" rx="1.6" fill="#000" fill-opacity="0.970" filter="url(#bl)"/>
<rect x="81.70" y="219" width="13.2" height="9" fill="#000" fill-opacity="0.116" filter="url(#bl)"/>
<rect x="81.70" y="228" width="13.2" height="6" fill="#000" fill-opacity="0.174" filter="url(#bl2)"/>
<rect x="81.30" y="214.90" width="14.00" height="6.60" rx="2" fill="#000" fill-opacity="0.120" filter="url(#bl2)"/>
<rect x="81.80" y="216.40" width="13.00" height="3.60" rx="1.6" fill="#000" fill-opacity="0.582" filter="url(#bl)"/>
<rect x="81.30" y="224.40" width="14.00" height="7.20" rx="2" fill="#000" fill-opacity="0.116" filter="url(#bl2)"/>
<rect x="81.80" y="225.90" width="13.00" height="4.20" rx="1.6" fill="#000" fill-opacity="0.563" filter="url(#bl)"/>
<rect x="96.90" y="186.5" width="13.6" height="8" fill="#000" fill-opacity="0.217" filter="url(#bl)"/>
<rect x="97.10" y="195" width="13.2" height="5" fill="#000" fill-opacity="0.213" filter="url(#bl2)"/>
<rect x="96.40" y="183.20" width="14.60" height="6.00" rx="2" fill="#000" fill-opacity="0.160" filter="url(#bl2)"/>
<rect x="96.90" y="184.70" width="13.60" height="3.00" rx="1.6" fill="#000" fill-opacity="0.776" filter="url(#bl)"/>
<rect x="96.40" y="191.60" width="14.60" height="7.20" rx="2" fill="#000" fill-opacity="0.194" filter="url(#bl2)"/>
<rect x="96.90" y="193.10" width="13.60" height="4.20" rx="1.6" fill="#000" fill-opacity="0.941" filter="url(#bl)"/>
<rect x="99.00" y="219" width="13.2" height="9" fill="#000" fill-opacity="0.090" filter="url(#bl)"/>
<rect x="99.00" y="228" width="13.2" height="6" fill="#000" fill-opacity="0.135" filter="url(#bl2)"/>
<rect x="98.60" y="214.90" width="14.00" height="6.60" rx="2" fill="#000" fill-opacity="0.084" filter="url(#bl2)"/>
<rect x="99.10" y="216.40" width="13.00" height="3.60" rx="1.6" fill="#000" fill-opacity="0.407" filter="url(#bl)"/>
<rect x="98.60" y="224.40" width="14.00" height="7.00" rx="2" fill="#000" fill-opacity="0.090" filter="url(#bl2)"/>
<rect x="99.10" y="225.90" width="13.00" height="4.00" rx="1.6" fill="#000" fill-opacity="0.436" filter="url(#bl)"/>
<rect x="113.20" y="186.5" width="13.6" height="8" fill="#000" fill-opacity="0.192" filter="url(#bl)"/>
<rect x="113.40" y="195" width="13.2" height="5" fill="#000" fill-opacity="0.209" filter="url(#bl2)"/>
<rect x="112.70" y="183.30" width="14.60" height="5.80" rx="2" fill="#000" fill-opacity="0.144" filter="url(#bl2)"/>
<rect x="113.20" y="184.80" width="13.60" height="2.80" rx="1.6" fill="#000" fill-opacity="0.698" filter="url(#bl)"/>
<rect x="112.70" y="191.70" width="14.60" height="7.00" rx="2" fill="#000" fill-opacity="0.190" filter="url(#bl2)"/>
<rect x="113.20" y="193.20" width="13.60" height="4.00" rx="1.6" fill="#000" fill-opacity="0.921" filter="url(#bl)"/>
<rect x="116.30" y="219" width="13.2" height="9" fill="#000" fill-opacity="0.090" filter="url(#bl)"/>
<rect x="116.30" y="228" width="13.2" height="6" fill="#000" fill-opacity="0.135" filter="url(#bl2)"/>
<rect x="115.90" y="214.90" width="14.00" height="6.60" rx="2" fill="#000" fill-opacity="0.084" filter="url(#bl2)"/>
<rect x="116.40" y="216.40" width="13.00" height="3.60" rx="1.6" fill="#000" fill-opacity="0.407" filter="url(#bl)"/>
<rect x="115.90" y="224.40" width="14.00" height="7.00" rx="2" fill="#000" fill-opacity="0.090" filter="url(#bl2)"/>
<rect x="116.40" y="225.90" width="13.00" height="4.00" rx="1.6" fill="#000" fill-opacity="0.436" filter="url(#bl)"/>
<rect x="129.70" y="186.5" width="13.6" height="8" fill="#000" fill-opacity="0.280" filter="url(#bl)"/>
<rect x="129.90" y="195" width="13.2" height="5" fill="#000" fill-opacity="0.220" filter="url(#bl2)"/>
<rect x="129.20" y="182.30" width="14.60" height="7.80" rx="2" fill="#000" fill-opacity="0.200" filter="url(#bl2)"/>
<rect x="129.70" y="183.80" width="13.60" height="4.80" rx="1.6" fill="#000" fill-opacity="0.970" filter="url(#bl)"/>
<rect x="129.20" y="191.30" width="14.60" height="7.80" rx="2" fill="#000" fill-opacity="0.200" filter="url(#bl2)"/>
<rect x="129.70" y="192.80" width="13.60" height="4.80" rx="1.6" fill="#000" fill-opacity="0.970" filter="url(#bl)"/>
<rect x="132.30" y="219" width="13.2" height="9" fill="#000" fill-opacity="0.200" filter="url(#bl)"/>
<rect x="132.30" y="228" width="13.2" height="6" fill="#000" fill-opacity="0.300" filter="url(#bl2)"/>
<rect x="131.90" y="214.90" width="14.00" height="6.60" rx="2" fill="#000" fill-opacity="0.184" filter="url(#bl2)"/>
<rect x="132.40" y="216.40" width="13.00" height="3.60" rx="1.6" fill="#000" fill-opacity="0.892" filter="url(#bl)"/>
<rect x="131.90" y="224.40" width="14.00" height="8.40" rx="2" fill="#000" fill-opacity="0.200" filter="url(#bl2)"/>
<rect x="132.40" y="225.90" width="13.00" height="5.40" rx="1.6" fill="#000" fill-opacity="0.970" filter="url(#bl)"/>
<rect x="146.20" y="186.5" width="13.6" height="8" fill="#000" fill-opacity="0.280" filter="url(#bl)"/>
<rect x="146.40" y="195" width="13.2" height="5" fill="#000" fill-opacity="0.220" filter="url(#bl2)"/>
<rect x="145.70" y="182.30" width="14.60" height="7.80" rx="2" fill="#000" fill-opacity="0.200" filter="url(#bl2)"/>
<rect x="146.20" y="183.80" width="13.60" height="4.80" rx="1.6" fill="#000" fill-opacity="0.970" filter="url(#bl)"/>
<rect x="145.70" y="191.30" width="14.60" height="7.80" rx="2" fill="#000" fill-opacity="0.200" filter="url(#bl2)"/>
<rect x="146.20" y="192.80" width="13.60" height="4.80" rx="1.6" fill="#000" fill-opacity="0.970" filter="url(#bl)"/>
<rect x="147.30" y="219" width="13.2" height="9" fill="#000" fill-opacity="0.170" filter="url(#bl)"/>
<rect x="147.30" y="228" width="13.2" height="6" fill="#000" fill-opacity="0.255" filter="url(#bl2)"/>
<rect x="146.90" y="214.90" width="14.00" height="6.60" rx="2" fill="#000" fill-opacity="0.150" filter="url(#bl2)"/>
<rect x="147.40" y="216.40" width="13.00" height="3.60" rx="1.6" fill="#000" fill-opacity="0.728" filter="url(#bl)"/>
<rect x="146.90" y="224.40" width="14.00" height="7.60" rx="2" fill="#000" fill-opacity="0.170" filter="url(#bl2)"/>
<rect x="147.40" y="225.90" width="13.00" height="4.60" rx="1.6" fill="#000" fill-opacity="0.825" filter="url(#bl)"/>
<rect x="162.60" y="186.5" width="13.6" height="8" fill="#000" fill-opacity="0.280" filter="url(#bl)"/>
<rect x="162.80" y="195" width="13.2" height="5" fill="#000" fill-opacity="0.220" filter="url(#bl2)"/>
<rect x="162.10" y="182.30" width="14.60" height="7.80" rx="2" fill="#000" fill-opacity="0.200" filter="url(#bl2)"/>
<rect x="162.60" y="183.80" width="13.60" height="4.80" rx="1.6" fill="#000" fill-opacity="0.970" filter="url(#bl)"/>
<rect x="162.10" y="191.30" width="14.60" height="7.80" rx="2" fill="#000" fill-opacity="0.200" filter="url(#bl2)"/>
<rect x="162.60" y="192.80" width="13.60" height="4.80" rx="1.6" fill="#000" fill-opacity="0.970" filter="url(#bl)"/>
<rect x="163.30" y="219" width="13.2" height="9" fill="#000" fill-opacity="0.200" filter="url(#bl)"/>
<rect x="163.30" y="228" width="13.2" height="6" fill="#000" fill-opacity="0.300" filter="url(#bl2)"/>
<rect x="162.90" y="214.90" width="14.00" height="6.60" rx="2" fill="#000" fill-opacity="0.190" filter="url(#bl2)"/>
<rect x="163.40" y="216.40" width="13.00" height="3.60" rx="1.6" fill="#000" fill-opacity="0.921" filter="url(#bl)"/>
<rect x="162.90" y="224.40" width="14.00" height="8.20" rx="2" fill="#000" fill-opacity="0.200" filter="url(#bl2)"/>
<rect x="163.40" y="225.90" width="13.00" height="5.20" rx="1.6" fill="#000" fill-opacity="0.970" filter="url(#bl)"/>
<rect x="178.60" y="186.5" width="13.6" height="8" fill="#000" fill-opacity="0.016" filter="url(#bl)"/>
<rect x="178.80" y="195" width="13.2" height="5" fill="#000" fill-opacity="0.154" filter="url(#bl2)"/>
<rect x="178.10" y="183.20" width="14.60" height="6.00" rx="2" fill="#000" fill-opacity="0.016" filter="url(#bl2)"/>
<rect x="178.60" y="184.70" width="13.60" height="3.00" rx="1.6" fill="#000" fill-opacity="0.078" filter="url(#bl)"/>
<rect x="178.10" y="192.10" width="14.60" height="6.20" rx="2" fill="#000" fill-opacity="0.140" filter="url(#bl2)"/>
<rect x="178.60" y="193.60" width="13.60" height="3.20" rx="1.6" fill="#000" fill-opacity="0.679" filter="url(#bl)"/>
<rect x="178.80" y="219" width="13.2" height="9" fill="#000" fill-opacity="0.080" filter="url(#bl)"/>
<rect x="178.80" y="228" width="13.2" height="6" fill="#000" fill-opacity="0.120" filter="url(#bl2)"/>
<rect x="178.40" y="214.90" width="14.00" height="6.60" rx="2" fill="#000" fill-opacity="0.024" filter="url(#bl2)"/>
<rect x="178.90" y="216.40" width="13.00" height="3.60" rx="1.6" fill="#000" fill-opacity="0.116" filter="url(#bl)"/>
<rect x="178.40" y="224.40" width="14.00" height="6.60" rx="2" fill="#000" fill-opacity="0.080" filter="url(#bl2)"/>
<rect x="178.90" y="225.90" width="13.00" height="3.60" rx="1.6" fill="#000" fill-opacity="0.388" filter="url(#bl)"/>
<rect x="193.30" y="186.5" width="13.6" height="8" fill="#000" fill-opacity="0.015" filter="url(#bl)"/>
<rect x="193.50" y="195" width="13.2" height="5" fill="#000" fill-opacity="0.145" filter="url(#bl2)"/>
<rect x="192.80" y="183.20" width="14.60" height="6.00" rx="2" fill="#000" fill-opacity="0.016" filter="url(#bl2)"/>
<rect x="193.30" y="184.70" width="13.60" height="3.00" rx="1.6" fill="#000" fill-opacity="0.078" filter="url(#bl)"/>
<rect x="192.80" y="192.10" width="14.60" height="6.20" rx="2" fill="#000" fill-opacity="0.132" filter="url(#bl2)"/>
<rect x="193.30" y="193.60" width="13.60" height="3.20" rx="1.6" fill="#000" fill-opacity="0.640" filter="url(#bl)"/>
<rect x="195.60" y="219" width="13.2" height="9" fill="#000" fill-opacity="0.084" filter="url(#bl)"/>
<rect x="195.60" y="228" width="13.2" height="6" fill="#000" fill-opacity="0.126" filter="url(#bl2)"/>
<rect x="195.20" y="214.90" width="14.00" height="6.60" rx="2" fill="#000" fill-opacity="0.028" filter="url(#bl2)"/>
<rect x="195.70" y="216.40" width="13.00" height="3.60" rx="1.6" fill="#000" fill-opacity="0.136" filter="url(#bl)"/>
<rect x="195.20" y="224.40" width="14.00" height="6.60" rx="2" fill="#000" fill-opacity="0.084" filter="url(#bl2)"/>
<rect x="195.70" y="225.90" width="13.00" height="3.60" rx="1.6" fill="#000" fill-opacity="0.407" filter="url(#bl)"/>
<rect x="210.60" y="186.5" width="13.6" height="8" fill="#000" fill-opacity="0.245" filter="url(#bl)"/>
<rect x="210.80" y="195" width="13.2" height="5" fill="#000" fill-opacity="0.209" filter="url(#bl2)"/>
<rect x="210.10" y="182.60" width="14.60" height="7.20" rx="2" fill="#000" fill-opacity="0.184" filter="url(#bl2)"/>
<rect x="210.60" y="184.10" width="13.60" height="4.20" rx="1.6" fill="#000" fill-opacity="0.892" filter="url(#bl)"/>
<rect x="210.10" y="191.60" width="14.60" height="7.20" rx="2" fill="#000" fill-opacity="0.190" filter="url(#bl2)"/>
<rect x="210.60" y="193.10" width="13.60" height="4.20" rx="1.6" fill="#000" fill-opacity="0.921" filter="url(#bl)"/>
<rect x="210.40" y="219" width="13.2" height="9" fill="#000" fill-opacity="0.200" filter="url(#bl)"/>
<rect x="210.40" y="228" width="13.2" height="6" fill="#000" fill-opacity="0.300" filter="url(#bl2)"/>
<rect x="210.00" y="214.90" width="14.00" height="6.60" rx="2" fill="#000" fill-opacity="0.180" filter="url(#bl2)"/>
<rect x="210.50" y="216.40" width="13.00" height="3.60" rx="1.6" fill="#000" fill-opacity="0.873" filter="url(#bl)"/>
<rect x="210.00" y="224.40" width="14.00" height="8.60" rx="2" fill="#000" fill-opacity="0.200" filter="url(#bl2)"/>
<rect x="210.50" y="225.90" width="13.00" height="5.60" rx="1.6" fill="#000" fill-opacity="0.970" filter="url(#bl)"/>
<text x="60.80" y="255.70" font-size="11" text-anchor="end">TDB</text>
<text x="60.80" y="268.60" font-size="11" text-anchor="end">Pom</text>
<text x="60.80" y="281.90" font-size="11" text-anchor="end">CD3/CD28</text>
<rect x="68.30" y="248.15" width="5.00" height="1.70" fill="#231f20" />
<rect x="84.00" y="247.10" width="5.40" height="1.60" fill="#231f20" />
<rect x="85.90" y="245.20" width="1.60" height="5.40" fill="#231f20" />
<rect x="100.30" y="248.15" width="5.00" height="1.70" fill="#231f20" />
<rect x="116.90" y="247.10" width="5.40" height="1.60" fill="#231f20" />
<rect x="118.80" y="245.20" width="1.60" height="5.40" fill="#231f20" />
<rect x="134.60" y="248.15" width="5.00" height="1.70" fill="#231f20" />
<rect x="149.60" y="248.15" width="5.00" height="1.70" fill="#231f20" />
<rect x="165.80" y="247.10" width="5.40" height="1.60" fill="#231f20" />
<rect x="167.70" y="245.20" width="1.60" height="5.40" fill="#231f20" />
<rect x="182.30" y="248.15" width="5.00" height="1.70" fill="#231f20" />
<rect x="198.80" y="247.10" width="5.40" height="1.60" fill="#231f20" />
<rect x="200.70" y="245.20" width="1.60" height="5.40" fill="#231f20" />
<rect x="216.00" y="248.15" width="5.00" height="1.70" fill="#231f20" />
<rect x="68.30" y="262.55" width="5.00" height="1.70" fill="#231f20" />
<rect x="84.20" y="262.55" width="5.00" height="1.70" fill="#231f20" />
<rect x="100.10" y="261.50" width="5.40" height="1.60" fill="#231f20" />
<rect x="102.00" y="259.60" width="1.60" height="5.40" fill="#231f20" />
<rect x="116.90" y="261.50" width="5.40" height="1.60" fill="#231f20" />
<rect x="118.80" y="259.60" width="1.60" height="5.40" fill="#231f20" />
<rect x="134.60" y="262.55" width="5.00" height="1.70" fill="#231f20" />
<rect x="149.60" y="262.55" width="5.00" height="1.70" fill="#231f20" />
<rect x="166.00" y="262.55" width="5.00" height="1.70" fill="#231f20" />
<rect x="182.10" y="261.50" width="5.40" height="1.60" fill="#231f20" />
<rect x="184.00" y="259.60" width="1.60" height="5.40" fill="#231f20" />
<rect x="198.80" y="261.50" width="5.40" height="1.60" fill="#231f20" />
<rect x="200.70" y="259.60" width="1.60" height="5.40" fill="#231f20" />
<rect x="216.00" y="262.55" width="5.00" height="1.70" fill="#231f20" />
<rect x="68.30" y="277.45" width="5.00" height="1.70" fill="#231f20" />
<rect x="84.20" y="277.45" width="5.00" height="1.70" fill="#231f20" />
<rect x="100.30" y="277.45" width="5.00" height="1.70" fill="#231f20" />
<rect x="117.10" y="277.45" width="5.00" height="1.70" fill="#231f20" />
<rect x="134.40" y="276.40" width="5.40" height="1.60" fill="#231f20" />
<rect x="136.30" y="274.50" width="1.60" height="5.40" fill="#231f20" />
<rect x="149.60" y="277.45" width="5.00" height="1.70" fill="#231f20" />
<rect x="166.00" y="277.45" width="5.00" height="1.70" fill="#231f20" />
<rect x="182.30" y="277.45" width="5.00" height="1.70" fill="#231f20" />
<rect x="199.00" y="277.45" width="5.00" height="1.70" fill="#231f20" />
<rect x="215.80" y="276.40" width="5.40" height="1.60" fill="#231f20" />
<rect x="217.70" y="274.50" width="1.60" height="5.40" fill="#231f20" />
<text x="255.00" y="162.00" font-size="13.2" font-weight="bold" textLength="8.66" lengthAdjust="spacingAndGlyphs">D</text>
<text x="330.60" y="165.40" font-size="10" text-anchor="middle">CD4<tspan font-size="6.5" dy="-3.8">+</tspan><tspan dy="3.8"> T</tspan></text>
<text x="469.80" y="165.40" font-size="10" text-anchor="middle">CD8<tspan font-size="6.5" dy="-3.8">+</tspan><tspan dy="3.8"> T</tspan></text>
<rect x="289.30" y="171.30" width="90.60" height="89.30" fill="none" stroke="#8a8a8a" stroke-width="0.8"/>
<line x1="286.80" y1="175.80" x2="289.30" y2="175.80" stroke="#555" stroke-width="0.8" />
<text x="286.30" y="178.00" font-size="6.2" text-anchor="end">100</text>
<line x1="288.10" y1="179.96" x2="289.30" y2="179.96" stroke="#c8c8c8" stroke-width="0.5" />
<line x1="288.10" y1="184.12" x2="289.30" y2="184.12" stroke="#c8c8c8" stroke-width="0.5" />
<line x1="288.10" y1="188.28" x2="289.30" y2="188.28" stroke="#c8c8c8" stroke-width="0.5" />
<line x1="286.80" y1="192.44" x2="289.30" y2="192.44" stroke="#555" stroke-width="0.8" />
<text x="286.30" y="194.64" font-size="6.2" text-anchor="end">80</text>
<line x1="288.10" y1="196.60" x2="289.30" y2="196.60" stroke="#c8c8c8" stroke-width="0.5" />
<line x1="288.10" y1="200.76" x2="289.30" y2="200.76" stroke="#c8c8c8" stroke-width="0.5" />
<line x1="288.10" y1="204.92" x2="289.30" y2="204.92" stroke="#c8c8c8" stroke-width="0.5" />
<line x1="286.80" y1="209.08" x2="289.30" y2="209.08" stroke="#555" stroke-width="0.8" />
<text x="286.30" y="211.28" font-size="6.2" text-anchor="end">60</text>
<line x1="288.10" y1="213.24" x2="289.30" y2="213.24" stroke="#c8c8c8" stroke-width="0.5" />
<line x1="288.10" y1="217.40" x2="289.30" y2="217.40" stroke="#c8c8c8" stroke-width="0.5" />
<line x1="288.10" y1="221.56" x2="289.30" y2="221.56" stroke="#c8c8c8" stroke-width="0.5" />
<line x1="286.80" y1="225.72" x2="289.30" y2="225.72" stroke="#555" stroke-width="0.8" />
<text x="286.30" y="227.92" font-size="6.2" text-anchor="end">40</text>
<line x1="288.10" y1="229.88" x2="289.30" y2="229.88" stroke="#c8c8c8" stroke-width="0.5" />
<line x1="288.10" y1="234.04" x2="289.30" y2="234.04" stroke="#c8c8c8" stroke-width="0.5" />
<line x1="288.10" y1="238.20" x2="289.30" y2="238.20" stroke="#c8c8c8" stroke-width="0.5" />
<line x1="286.80" y1="242.36" x2="289.30" y2="242.36" stroke="#555" stroke-width="0.8" />
<text x="286.30" y="244.56" font-size="6.2" text-anchor="end">20</text>
<line x1="288.10" y1="246.52" x2="289.30" y2="246.52" stroke="#c8c8c8" stroke-width="0.5" />
<line x1="288.10" y1="250.68" x2="289.30" y2="250.68" stroke="#c8c8c8" stroke-width="0.5" />
<line x1="288.10" y1="254.84" x2="289.30" y2="254.84" stroke="#c8c8c8" stroke-width="0.5" />
<line x1="286.80" y1="259.00" x2="289.30" y2="259.00" stroke="#555" stroke-width="0.8" />
<text x="286.30" y="261.20" font-size="6.2" text-anchor="end">0</text>
<text x="268.50" y="215.30" font-size="9.25" text-anchor="middle" font-weight="bold" transform="rotate(-90 268.50 215.30)">Normalized to mode</text>
<polygon points="289.6,259.6 290.9,259.6 292.2,259.6 293.4,259.6 294.7,259.6 296.0,259.6 298.0,258.8 300.0,257.9 301.2,257.2 302.5,255.1 304.1,254.7 305.7,255.5 307.1,255.8 308.5,256.1 309.8,256.1 311.0,257.2 312.6,257.5 314.1,257.8 315.7,257.5 317.1,258.1 318.6,258.3 320.0,258.4 321.2,258.3 322.5,258.3 323.8,258.2 325.0,258.2 326.3,258.3 327.7,258.5 329.0,258.6 330.2,258.5 331.4,258.4 332.6,258.3 335.0,257.7 337.2,256.8 339.0,258.2 341.0,258.2 342.5,252.7 343.7,248.9 345.3,252.4 347.2,255.1 348.5,252.0 349.8,238.0 351.2,205.0 352.8,176.3 354.3,200.0 355.7,232.0 357.0,252.0 358.2,258.8 360.0,259.6 361.2,259.6 362.4,259.6 363.7,259.6 364.9,259.6 366.1,259.6 367.3,259.6 368.5,259.6 369.8,259.6 371.0,259.6 372.2,259.6 373.4,259.6 374.6,259.6 375.8,259.6 377.1,259.6 378.3,259.6 379.5,259.6" fill="#f7b4b8" stroke="none"/>
<polyline points="289.6,259.6 290.9,259.6 292.2,259.6 293.4,259.6 294.7,259.6 296.0,259.6 298.0,258.8 300.0,257.9 301.2,257.2 302.5,255.1 304.1,254.7 305.7,255.5 307.1,255.8 308.5,256.1 309.8,256.1 311.0,257.2 312.6,257.5 314.1,257.8 315.7,257.5 317.1,258.1 318.6,258.3 320.0,258.4 321.2,258.3 322.5,258.3 323.8,258.2 325.0,258.2 326.3,258.3 327.7,258.5 329.0,258.6 330.2,258.5 331.4,258.4 332.6,258.3 335.0,257.7 337.2,256.8 339.0,258.2 341.0,258.2 342.5,252.7 343.7,248.9 345.3,252.4 347.2,255.1 348.5,252.0 349.8,238.0 351.2,205.0 352.8,176.3 354.3,200.0 355.7,232.0 357.0,252.0 358.2,258.8 360.0,259.6 361.2,259.6 362.4,259.6 363.7,259.6 364.9,259.6 366.1,259.6 367.3,259.6 368.5,259.6 369.8,259.6 371.0,259.6 372.2,259.6 373.4,259.6 374.6,259.6 375.8,259.6 377.1,259.6 378.3,259.6 379.5,259.6" fill="none" stroke="#d91f2c" stroke-width="1.15" stroke-linejoin="round"/>
<polyline points="289.6,259.6 290.9,259.6 292.2,259.6 293.4,259.6 294.7,259.6 296.0,259.6 297.5,257.4 299.5,254.6 300.8,251.9 302.0,250.2 303.6,249.2 305.2,246.8 306.4,247.5 307.5,250.3 309.5,251.4 311.0,252.1 313.0,255.7 315.0,256.4 317.0,256.8 318.5,255.4 320.3,253.8 322.0,255.2 323.5,254.8 325.0,251.3 327.2,257.1 329.0,255.6 331.0,253.1 332.5,253.8 334.0,257.6 335.5,255.2 337.5,249.1 338.9,251.6 340.3,256.7 342.0,249.9 343.5,241.5 345.0,237.4 346.5,246.5 348.0,256.0 349.0,250.0 349.8,238.0" fill="none" stroke="#2f3f98" stroke-width="1.2" stroke-linejoin="round"/>
<polyline points="289.6,259.6 290.5,259.6 291.4,259.6 292.3,259.6 293.3,259.6 294.2,259.6 295.1,259.6 296.0,259.6 297.5,258.7 298.5,258.0 299.5,256.2 300.8,254.4 302.0,250.5 303.1,249.9 304.1,249.0 305.2,248.4 306.4,250.5 307.5,249.9 308.5,252.1 309.5,252.6 311.0,253.5 312.0,254.7 313.0,256.6 314.0,257.1 315.0,256.6 316.0,257.0 317.0,256.5 318.5,257.7 319.4,256.5 320.3,255.5 322.0,258.1 323.5,256.4 325.0,252.8 326.1,255.7 327.2,257.7 328.1,258.1 329.0,256.3 330.0,255.8 331.0,254.2 332.0,255.3 333.0,256.5 334.0,258.1 335.5,255.9 336.5,252.7 337.5,251.7 338.4,253.7 339.4,256.2 340.3,257.6 342.0,251.4 343.5,242.9 345.0,236.9 346.5,247.7 348.0,256.2 349.0,251.3 349.8,239.3" fill="none" stroke="#34449c" stroke-width="1.0" stroke-linejoin="round"/>
<polyline points="348.8,252.0 349.8,238.0 351.2,205.0 352.8,176.3 354.3,200.0 355.7,232.0 357.0,252.0 358.2,258.8 360.0,259.6" fill="none" stroke="#6a1d52" stroke-width="1.25" stroke-linejoin="round"/>
<line x1="289.30" y1="260.60" x2="379.90" y2="260.60" stroke="#8a8a8a" stroke-width="0.8" />
<line x1="289.60" y1="260.00" x2="296.50" y2="260.00" stroke="#3c3444" stroke-width="1.4" />
<line x1="359.00" y1="260.00" x2="379.60" y2="260.00" stroke="#3c3444" stroke-width="1.4" />
<rect x="425.20" y="171.30" width="90.20" height="89.30" fill="none" stroke="#8a8a8a" stroke-width="0.8"/>
<line x1="422.70" y1="175.80" x2="425.20" y2="175.80" stroke="#555" stroke-width="0.8" />
<text x="422.20" y="178.00" font-size="6.2" text-anchor="end">100</text>
<line x1="424.00" y1="179.96" x2="425.20" y2="179.96" stroke="#c8c8c8" stroke-width="0.5" />
<line x1="424.00" y1="184.12" x2="425.20" y2="184.12" stroke="#c8c8c8" stroke-width="0.5" />
<line x1="424.00" y1="188.28" x2="425.20" y2="188.28" stroke="#c8c8c8" stroke-width="0.5" />
<line x1="422.70" y1="192.44" x2="425.20" y2="192.44" stroke="#555" stroke-width="0.8" />
<text x="422.20" y="194.64" font-size="6.2" text-anchor="end">80</text>
<line x1="424.00" y1="196.60" x2="425.20" y2="196.60" stroke="#c8c8c8" stroke-width="0.5" />
<line x1="424.00" y1="200.76" x2="425.20" y2="200.76" stroke="#c8c8c8" stroke-width="0.5" />
<line x1="424.00" y1="204.92" x2="425.20" y2="204.92" stroke="#c8c8c8" stroke-width="0.5" />
<line x1="422.70" y1="209.08" x2="425.20" y2="209.08" stroke="#555" stroke-width="0.8" />
<text x="422.20" y="211.28" font-size="6.2" text-anchor="end">60</text>
<line x1="424.00" y1="213.24" x2="425.20" y2="213.24" stroke="#c8c8c8" stroke-width="0.5" />
<line x1="424.00" y1="217.40" x2="425.20" y2="217.40" stroke="#c8c8c8" stroke-width="0.5" />
<line x1="424.00" y1="221.56" x2="425.20" y2="221.56" stroke="#c8c8c8" stroke-width="0.5" />
<line x1="422.70" y1="225.72" x2="425.20" y2="225.72" stroke="#555" stroke-width="0.8" />
<text x="422.20" y="227.92" font-size="6.2" text-anchor="end">40</text>
<line x1="424.00" y1="229.88" x2="425.20" y2="229.88" stroke="#c8c8c8" stroke-width="0.5" />
<line x1="424.00" y1="234.04" x2="425.20" y2="234.04" stroke="#c8c8c8" stroke-width="0.5" />
<line x1="424.00" y1="238.20" x2="425.20" y2="238.20" stroke="#c8c8c8" stroke-width="0.5" />
<line x1="422.70" y1="242.36" x2="425.20" y2="242.36" stroke="#555" stroke-width="0.8" />
<text x="422.20" y="244.56" font-size="6.2" text-anchor="end">20</text>
<line x1="424.00" y1="246.52" x2="425.20" y2="246.52" stroke="#c8c8c8" stroke-width="0.5" />
<line x1="424.00" y1="250.68" x2="425.20" y2="250.68" stroke="#c8c8c8" stroke-width="0.5" />
<line x1="424.00" y1="254.84" x2="425.20" y2="254.84" stroke="#c8c8c8" stroke-width="0.5" />
<line x1="422.70" y1="259.00" x2="425.20" y2="259.00" stroke="#555" stroke-width="0.8" />
<text x="422.20" y="261.20" font-size="6.2" text-anchor="end">0</text>
<text x="405.30" y="215.30" font-size="9.25" text-anchor="middle" font-weight="bold" transform="rotate(-90 405.30 215.30)">Normalized to mode</text>
<polygon points="425.3,259.6 426.9,259.6 428.4,259.6 430.0,259.6 432.0,258.5 433.4,258.1 434.8,257.4 437.0,258.5 439.4,255.9 441.5,258.3 442.8,257.9 444.0,257.3 446.0,258.2 447.3,256.7 448.6,256.1 450.5,256.0 452.5,251.9 454.8,255.7 456.1,254.1 457.5,253.5 458.9,251.5 460.2,249.6 462.5,254.1 464.5,252.2 466.3,249.7 468.6,255.0 470.8,251.4 472.9,248.1 474.2,250.4 475.5,253.6 477.5,249.2 479.4,243.3 481.7,248.9 483.2,252.0 484.5,248.0 485.6,235.0 486.8,210.0 488.6,176.2 490.3,208.0 491.5,235.0 492.8,252.0 494.0,258.8 495.5,259.6 496.7,259.6 497.9,259.6 499.2,259.6 500.4,259.6 501.6,259.6 502.8,259.6 504.0,259.6 505.2,259.6 506.5,259.6 507.7,259.6 508.9,259.6 510.1,259.6 511.3,259.6 512.6,259.6 513.8,259.6 515.0,259.6" fill="#f7b4b8" stroke="none"/>
<polyline points="425.3,259.6 426.9,259.6 428.4,259.6 430.0,259.6 432.0,258.5 433.4,258.1 434.8,257.4 437.0,258.5 439.4,255.9 441.5,258.3 442.8,257.9 444.0,257.3 446.0,258.2 447.3,256.7 448.6,256.1 450.5,256.0 452.5,251.9 454.8,255.7 456.1,254.1 457.5,253.5 458.9,251.5 460.2,249.6 462.5,254.1 464.5,252.2 466.3,249.7 468.6,255.0 470.8,251.4 472.9,248.1 474.2,250.4 475.5,253.6 477.5,249.2 479.4,243.3 481.7,248.9 483.2,252.0 484.5,248.0 485.6,235.0 486.8,210.0 488.6,176.2 490.3,208.0 491.5,235.0 492.8,252.0 494.0,258.8 495.5,259.6 496.7,259.6 497.9,259.6 499.2,259.6 500.4,259.6 501.6,259.6 502.8,259.6 504.0,259.6 505.2,259.6 506.5,259.6 507.7,259.6 508.9,259.6 510.1,259.6 511.3,259.6 512.6,259.6 513.8,259.6 515.0,259.6" fill="none" stroke="#d91f2c" stroke-width="1.15" stroke-linejoin="round"/>
<polyline points="425.3,259.6 426.5,259.6 427.6,259.6 428.8,259.6 430.0,259.6 431.0,259.6 432.0,259.3 433.4,258.9 434.8,258.1 435.9,258.9 437.0,259.3 438.2,258.5 439.4,257.4 440.4,258.6 441.5,259.1 442.8,258.6 444.0,258.3 445.0,259.0 446.0,259.0 447.3,258.2 448.6,256.8 450.5,256.5 451.5,254.2 452.5,252.6 453.6,253.9 454.8,255.9 456.1,255.7 457.5,254.2 458.9,252.3 460.2,251.1 461.4,253.2 462.5,255.0 463.5,254.4 464.5,253.5 466.3,249.7 467.5,252.9 468.6,255.0 469.7,253.4 470.8,251.4 471.9,249.9 472.9,249.0 474.2,251.5 475.5,255.1 476.5,252.1 477.5,249.9 479.4,244.2 480.5,246.7 481.7,248.9 483.2,252.4 484.5,248.8 485.6,235.8 486.8,210.8 488.6,177.0 490.3,208.8 491.5,235.8 492.8,252.8 494.0,259.6 495.5,259.6 496.5,259.6 497.6,259.6 498.6,259.6 499.6,259.6 500.6,259.6 501.7,259.6 502.7,259.6 503.7,259.6 504.7,259.6 505.8,259.6 506.8,259.6 507.8,259.6 508.8,259.6 509.9,259.6 510.9,259.6 511.9,259.6 512.9,259.6 514.0,259.6 515.0,259.6" fill="none" stroke="#d91f2c" stroke-width="0.9" stroke-linejoin="round"/>
<polyline points="425.3,259.6 426.7,259.6 428.1,259.5 429.5,259.5 430.5,256.4 432.5,241.7 434.0,232.6 435.5,223.9 437.0,218.6 438.6,223.8 440.2,215.3 441.7,231.4 443.2,222.4 444.8,224.3 447.0,217.6 448.6,217.1 449.4,199.9 450.9,215.1 452.5,200.2 454.0,187.3 455.5,181.2 457.0,199.8 458.6,213.8 460.5,177.7 462.5,217.0 464.0,234.8 464.8,243.4 466.2,223.7 467.6,209.9 469.0,228.7 470.2,240.5 471.6,236.7 473.0,227.5 474.8,235.0 476.0,233.2 477.8,252.8 479.2,235.7 480.6,223.2 481.7,227.1 482.9,240.6 484.0,251.9 485.5,238.0" fill="none" stroke="#2f3f98" stroke-width="1.2" stroke-linejoin="round"/>
<polyline points="425.3,259.6 426.4,259.6 427.4,259.6 428.4,259.6 429.5,259.6 430.5,259.3 431.5,248.2 432.5,243.2 434.0,231.9 435.5,225.7 437.0,217.6 438.6,225.3 440.2,219.3 441.7,234.4 443.2,224.2 444.8,224.5 445.9,221.0 447.0,218.5 448.6,219.3 449.4,200.7 450.9,216.6 452.5,202.9 454.0,189.9 455.5,185.7 457.0,201.4 458.6,217.7 459.6,197.0 460.5,176.8 461.5,197.5 462.5,217.3 464.0,236.1 464.8,244.1 466.2,226.1 467.6,211.4 469.0,233.1 470.2,244.4 471.1,239.0 472.1,236.0 473.0,231.9 473.9,233.8 474.8,239.2 476.0,231.4 476.9,241.8 477.8,251.9 478.7,244.7 479.7,233.8 480.6,223.9 481.7,227.8 482.9,241.6 484.0,256.0 485.5,239.6" fill="none" stroke="#34449c" stroke-width="1.0" stroke-linejoin="round"/>
<polyline points="484.6,250.0 485.6,235.0 486.6,218.0 487.6,202.0 488.6,192.8 489.6,204.0 490.6,225.0 491.7,248.0 493.2,258.5 494.5,259.6" fill="none" stroke="#6a1d52" stroke-width="1.25" stroke-linejoin="round"/>
<line x1="425.20" y1="260.60" x2="515.40" y2="260.60" stroke="#8a8a8a" stroke-width="0.8" />
<line x1="425.50" y1="260.00" x2="429.80" y2="260.00" stroke="#3c3444" stroke-width="1.4" />
<line x1="494.20" y1="260.00" x2="515.10" y2="260.00" stroke="#3c3444" stroke-width="1.4" />
<text x="298.30" y="271.60" font-size="6.2" text-anchor="middle">0</text>
<text x="333.30" y="271.60" font-size="6.2" text-anchor="middle">10<tspan font-size="5.6" dy="-3.6">3</tspan></text>
<text x="354.00" y="271.60" font-size="6.2" text-anchor="middle">10<tspan font-size="5.6" dy="-3.6">4</tspan></text>
<text x="374.50" y="271.60" font-size="6.2" text-anchor="middle">10<tspan font-size="5.6" dy="-3.6">5</tspan></text>
<rect x="296.10" y="259.9" width="2.4" height="2.4" fill="#111"/>
<line x1="298.30" y1="260.60" x2="298.30" y2="262.30" stroke="#777" stroke-width="0.6" />
<line x1="331.60" y1="260.60" x2="331.60" y2="262.30" stroke="#777" stroke-width="0.6" />
<line x1="352.60" y1="260.60" x2="352.60" y2="262.30" stroke="#777" stroke-width="0.6" />
<line x1="373.30" y1="260.60" x2="373.30" y2="262.30" stroke="#777" stroke-width="0.6" />
<text x="434.20" y="271.60" font-size="6.2" text-anchor="middle">0</text>
<text x="469.20" y="271.60" font-size="6.2" text-anchor="middle">10<tspan font-size="5.6" dy="-3.6">3</tspan></text>
<text x="489.90" y="271.60" font-size="6.2" text-anchor="middle">10<tspan font-size="5.6" dy="-3.6">4</tspan></text>
<text x="510.40" y="271.60" font-size="6.2" text-anchor="middle">10<tspan font-size="5.6" dy="-3.6">5</tspan></text>
<rect x="432.00" y="259.9" width="2.4" height="2.4" fill="#111"/>
<line x1="434.20" y1="260.60" x2="434.20" y2="262.30" stroke="#777" stroke-width="0.6" />
<line x1="467.50" y1="260.60" x2="467.50" y2="262.30" stroke="#777" stroke-width="0.6" />
<line x1="488.50" y1="260.60" x2="488.50" y2="262.30" stroke="#777" stroke-width="0.6" />
<line x1="509.20" y1="260.60" x2="509.20" y2="262.30" stroke="#777" stroke-width="0.6" />
<text x="334.30" y="282.40" font-size="8.4" text-anchor="middle">CFSE</text>
<text x="470.30" y="281.60" font-size="8.4" text-anchor="middle">CFSE</text>
<text x="2.80" y="300.20" font-size="13.2" font-weight="bold" textLength="8.00" lengthAdjust="spacingAndGlyphs">E</text>
<line x1="26.40" y1="312.10" x2="26.40" y2="407.60" stroke="#231f20" stroke-width="1.2" />
<line x1="23.40" y1="407.00" x2="26.40" y2="407.00" stroke="#231f20" stroke-width="1.2" />
<text x="22.70" y="409.50" font-size="7.0" text-anchor="end">0</text>
<line x1="23.40" y1="391.18" x2="26.40" y2="391.18" stroke="#231f20" stroke-width="1.2" />
<text x="22.70" y="393.68" font-size="7.0" text-anchor="end">2</text>
<line x1="23.40" y1="375.37" x2="26.40" y2="375.37" stroke="#231f20" stroke-width="1.2" />
<text x="22.70" y="377.87" font-size="7.0" text-anchor="end">4</text>
<line x1="23.40" y1="359.55" x2="26.40" y2="359.55" stroke="#231f20" stroke-width="1.2" />
<text x="22.70" y="362.05" font-size="7.0" text-anchor="end">6</text>
<line x1="23.40" y1="343.73" x2="26.40" y2="343.73" stroke="#231f20" stroke-width="1.2" />
<text x="22.70" y="346.23" font-size="7.0" text-anchor="end">8</text>
<line x1="23.40" y1="327.92" x2="26.40" y2="327.92" stroke="#231f20" stroke-width="1.2" />
<text x="22.70" y="330.42" font-size="7.0" text-anchor="end">10</text>
<line x1="23.40" y1="312.10" x2="26.40" y2="312.10" stroke="#231f20" stroke-width="1.2" />
<text x="22.70" y="314.60" font-size="7.0" text-anchor="end">12</text>
<line x1="25.80" y1="407.00" x2="90.51" y2="407.00" stroke="#231f20" stroke-width="1.2" />
<line x1="26.20" y1="407.00" x2="26.20" y2="410.00" stroke="#231f20" stroke-width="1.2" />
<text x="26.20" y="417.30" font-size="8.2" text-anchor="middle" textLength="4.2" lengthAdjust="spacingAndGlyphs">0</text>
<line x1="47.47" y1="407.00" x2="47.47" y2="410.00" stroke="#231f20" stroke-width="1.2" />
<text x="47.47" y="417.30" font-size="8.2" text-anchor="middle" textLength="4.2" lengthAdjust="spacingAndGlyphs">5</text>
<line x1="68.74" y1="407.00" x2="68.74" y2="410.00" stroke="#231f20" stroke-width="1.2" />
<text x="68.74" y="417.30" font-size="8.2" text-anchor="middle" textLength="8.4" lengthAdjust="spacingAndGlyphs">10</text>
<line x1="90.01" y1="407.00" x2="90.01" y2="410.00" stroke="#231f20" stroke-width="1.2" />
<text x="90.01" y="417.30" font-size="8.2" text-anchor="middle" textLength="8.4" lengthAdjust="spacingAndGlyphs">15</text>
<text x="57.90" y="427.20" font-size="9.2" text-anchor="middle" textLength="19.6" lengthAdjust="spacingAndGlyphs">Days</text>
<text x="9.30" y="359.75" font-size="9.2" text-anchor="middle" transform="rotate(-90 9.30 359.75)">CD4<tspan font-size="5.8" dy="-3.3">+</tspan><tspan dy="3.3"> T-cell fold change</tspan></text>
<polyline points="26.2,399.1 39.0,400.0 56.0,397.2 68.7,398.8 85.8,397.4" fill="none" stroke="#3b4ca3" stroke-width="1.1"/>
<rect x="23.90" y="396.79" width="4.60" height="4.60" fill="#3b4ca3" />
<rect x="36.66" y="397.74" width="4.60" height="4.60" fill="#3b4ca3" />
<rect x="53.68" y="394.89" width="4.60" height="4.60" fill="#3b4ca3" />
<rect x="66.44" y="396.48" width="4.60" height="4.60" fill="#3b4ca3" />
<rect x="83.46" y="395.05" width="4.60" height="4.60" fill="#3b4ca3" />
<polyline points="26.2,399.1 39.0,400.0 56.0,398.3 68.7,399.1 85.8,398.1" fill="none" stroke="#3b4ca3" stroke-width="1.1"/>
<circle cx="26.20" cy="399.09" r="2.3" fill="#3b4ca3" />
<circle cx="38.96" cy="400.04" r="2.3" fill="#3b4ca3" />
<circle cx="55.98" cy="398.30" r="2.3" fill="#3b4ca3" />
<circle cx="68.74" cy="399.09" r="2.3" fill="#3b4ca3" />
<circle cx="85.76" cy="398.14" r="2.3" fill="#3b4ca3" />
<polyline points="26.2,398.9 39.0,399.9 56.0,401.5 68.7,401.3 85.8,401.0" fill="none" stroke="#e31f26" stroke-width="1.1"/>
<circle cx="26.20" cy="398.93" r="2.3" fill="#e31f26" />
<circle cx="38.96" cy="399.88" r="2.3" fill="#e31f26" />
<circle cx="55.98" cy="401.54" r="2.3" fill="#e31f26" />
<circle cx="68.74" cy="401.31" r="2.3" fill="#e31f26" />
<circle cx="85.76" cy="400.99" r="2.3" fill="#e31f26" />
<polyline points="26.2,399.1 39.0,400.0 56.0,401.1 68.7,401.5 85.8,400.8" fill="none" stroke="#e31f26" stroke-width="1.1"/>
<rect x="23.90" y="396.79" width="4.60" height="4.60" fill="#e31f26" />
<rect x="36.66" y="397.74" width="4.60" height="4.60" fill="#e31f26" />
<rect x="53.68" y="398.77" width="4.60" height="4.60" fill="#e31f26" />
<rect x="66.44" y="399.24" width="4.60" height="4.60" fill="#e31f26" />
<rect x="83.46" y="398.53" width="4.60" height="4.60" fill="#e31f26" />
<line x1="122.50" y1="311.90" x2="122.50" y2="407.10" stroke="#231f20" stroke-width="1.2" />
<line x1="119.50" y1="406.50" x2="122.50" y2="406.50" stroke="#231f20" stroke-width="1.2" />
<text x="118.80" y="409.00" font-size="7.0" text-anchor="end">0</text>
<line x1="119.50" y1="390.73" x2="122.50" y2="390.73" stroke="#231f20" stroke-width="1.2" />
<text x="118.80" y="393.23" font-size="7.0" text-anchor="end">2</text>
<line x1="119.50" y1="374.97" x2="122.50" y2="374.97" stroke="#231f20" stroke-width="1.2" />
<text x="118.80" y="377.47" font-size="7.0" text-anchor="end">4</text>
<line x1="119.50" y1="359.20" x2="122.50" y2="359.20" stroke="#231f20" stroke-width="1.2" />
<text x="118.80" y="361.70" font-size="7.0" text-anchor="end">6</text>
<line x1="119.50" y1="343.43" x2="122.50" y2="343.43" stroke="#231f20" stroke-width="1.2" />
<text x="118.80" y="345.93" font-size="7.0" text-anchor="end">8</text>
<line x1="119.50" y1="327.67" x2="122.50" y2="327.67" stroke="#231f20" stroke-width="1.2" />
<text x="118.80" y="330.17" font-size="7.0" text-anchor="end">10</text>
<line x1="119.50" y1="311.90" x2="122.50" y2="311.90" stroke="#231f20" stroke-width="1.2" />
<text x="118.80" y="314.40" font-size="7.0" text-anchor="end">12</text>
<line x1="121.90" y1="406.50" x2="186.80" y2="406.50" stroke="#231f20" stroke-width="1.2" />
<line x1="122.70" y1="406.50" x2="122.70" y2="409.50" stroke="#231f20" stroke-width="1.2" />
<text x="122.70" y="416.80" font-size="8.2" text-anchor="middle" textLength="4.2" lengthAdjust="spacingAndGlyphs">0</text>
<line x1="143.90" y1="406.50" x2="143.90" y2="409.50" stroke="#231f20" stroke-width="1.2" />
<text x="143.90" y="416.80" font-size="8.2" text-anchor="middle" textLength="4.2" lengthAdjust="spacingAndGlyphs">5</text>
<line x1="165.10" y1="406.50" x2="165.10" y2="409.50" stroke="#231f20" stroke-width="1.2" />
<text x="165.10" y="416.80" font-size="8.2" text-anchor="middle" textLength="8.4" lengthAdjust="spacingAndGlyphs">10</text>
<line x1="186.30" y1="406.50" x2="186.30" y2="409.50" stroke="#231f20" stroke-width="1.2" />
<text x="186.30" y="416.80" font-size="8.2" text-anchor="middle" textLength="8.4" lengthAdjust="spacingAndGlyphs">15</text>
<text x="154.30" y="427.20" font-size="9.2" text-anchor="middle" textLength="19.6" lengthAdjust="spacingAndGlyphs">Days</text>
<text x="105.50" y="358.50" font-size="9.2" text-anchor="middle" transform="rotate(-90 105.50 358.50)">CD8<tspan font-size="5.8" dy="-3.3">+</tspan><tspan dy="3.3"> T-cell fold change</tspan></text>
<line x1="152.38" y1="320.97" x2="152.38" y2="325.30" stroke="#3b4ca3" stroke-width="0.8" />
<line x1="150.78" y1="320.97" x2="153.98" y2="320.97" stroke="#3b4ca3" stroke-width="0.8" />
<line x1="150.78" y1="325.30" x2="153.98" y2="325.30" stroke="#3b4ca3" stroke-width="0.8" />
<line x1="165.10" y1="344.62" x2="165.10" y2="360.38" stroke="#3b4ca3" stroke-width="0.8" />
<line x1="163.50" y1="344.62" x2="166.70" y2="344.62" stroke="#3b4ca3" stroke-width="0.8" />
<line x1="163.50" y1="360.38" x2="166.70" y2="360.38" stroke="#3b4ca3" stroke-width="0.8" />
<polyline points="122.7,398.6 135.4,387.6 152.4,325.3 165.1,352.9 182.1,360.8" fill="none" stroke="#3b4ca3" stroke-width="1.1"/>
<rect x="120.40" y="396.32" width="4.60" height="4.60" fill="#3b4ca3" />
<rect x="133.12" y="385.28" width="4.60" height="4.60" fill="#3b4ca3" />
<rect x="150.08" y="323.00" width="4.60" height="4.60" fill="#3b4ca3" />
<rect x="162.80" y="350.59" width="4.60" height="4.60" fill="#3b4ca3" />
<rect x="179.76" y="358.48" width="4.60" height="4.60" fill="#3b4ca3" />
<polyline points="122.7,398.6 135.4,395.5 152.4,395.9" fill="none" stroke="#3b4ca3" stroke-width="1.1"/>
<circle cx="122.70" cy="398.62" r="2.3" fill="#3b4ca3" />
<circle cx="135.42" cy="395.46" r="2.3" fill="#3b4ca3" />
<circle cx="152.38" cy="395.86" r="2.3" fill="#3b4ca3" />
<polyline points="122.7,398.6 135.4,395.5 152.4,399.0" fill="none" stroke="#e31f26" stroke-width="1.1"/>
<circle cx="122.70" cy="398.62" r="2.3" fill="#e31f26" />
<circle cx="135.42" cy="395.46" r="2.3" fill="#e31f26" />
<circle cx="152.38" cy="399.01" r="2.3" fill="#e31f26" />
<polyline points="122.7,398.6 135.4,384.4 152.4,378.1 165.1,389.9 182.1,397.0" fill="none" stroke="#e31f26" stroke-width="1.1"/>
<rect x="120.40" y="396.32" width="4.60" height="4.60" fill="#e31f26" />
<rect x="133.12" y="382.13" width="4.60" height="4.60" fill="#e31f26" />
<rect x="150.08" y="375.82" width="4.60" height="4.60" fill="#e31f26" />
<rect x="162.80" y="387.64" width="4.60" height="4.60" fill="#e31f26" />
<rect x="179.76" y="394.74" width="4.60" height="4.60" fill="#e31f26" />
<polygon points="151.90,312.10 152.61,314.03 154.66,314.10 153.04,315.37 153.60,317.35 151.90,316.20 150.20,317.35 150.76,315.37 149.14,314.10 151.19,314.03" fill="#111"/>
<polygon points="165.00,336.90 165.71,338.83 167.76,338.90 166.14,340.17 166.70,342.15 165.00,341.00 163.30,342.15 163.86,340.17 162.24,338.90 164.29,338.83" fill="#111"/>
<polygon points="181.80,351.50 182.51,353.43 184.56,353.50 182.94,354.77 183.50,356.75 181.80,355.60 180.10,356.75 180.66,354.77 179.04,353.50 181.09,353.43" fill="#111"/>
<line x1="187.70" y1="327.00" x2="198.80" y2="327.00" stroke="#e31f26" stroke-width="1.1" />
<circle cx="193.30" cy="327.00" r="2.3" fill="#e31f26" />
<text x="203.80" y="329.80" font-size="8.0" textLength="9.8" lengthAdjust="spacingAndGlyphs">NT</text>
<line x1="187.70" y1="340.15" x2="198.80" y2="340.15" stroke="#3b4ca3" stroke-width="1.1" />
<circle cx="193.30" cy="340.15" r="2.3" fill="#3b4ca3" />
<text x="203.80" y="342.95" font-size="8.0" textLength="13.4" lengthAdjust="spacingAndGlyphs">Len</text>
<line x1="187.70" y1="353.30" x2="198.80" y2="353.30" stroke="#e31f26" stroke-width="1.1" />
<rect x="191.00" y="351.00" width="4.60" height="4.60" fill="#e31f26" />
<text x="203.80" y="356.10" font-size="8.0" textLength="22.0" lengthAdjust="spacingAndGlyphs">Cevos</text>
<line x1="187.70" y1="366.45" x2="198.80" y2="366.45" stroke="#3b4ca3" stroke-width="1.1" />
<rect x="191.00" y="364.15" width="4.60" height="4.60" fill="#3b4ca3" />
<text x="203.80" y="369.25" font-size="8.0" textLength="40.4" lengthAdjust="spacingAndGlyphs">Cevos + len</text>
<text x="255.20" y="300.20" font-size="13.2" font-weight="bold" textLength="7.33" lengthAdjust="spacingAndGlyphs">F</text>
<line x1="278.30" y1="312.70" x2="278.30" y2="407.60" stroke="#231f20" stroke-width="1.2" />
<line x1="275.30" y1="407.00" x2="278.30" y2="407.00" stroke="#231f20" stroke-width="1.2" />
<text x="274.60" y="409.50" font-size="7.0" text-anchor="end">0</text>
<line x1="275.30" y1="375.57" x2="278.30" y2="375.57" stroke="#231f20" stroke-width="1.2" />
<text x="274.60" y="378.07" font-size="7.0" text-anchor="end">2</text>
<line x1="275.30" y1="344.13" x2="278.30" y2="344.13" stroke="#231f20" stroke-width="1.2" />
<text x="274.60" y="346.63" font-size="7.0" text-anchor="end">4</text>
<line x1="275.30" y1="312.70" x2="278.30" y2="312.70" stroke="#231f20" stroke-width="1.2" />
<text x="274.60" y="315.20" font-size="7.0" text-anchor="end">6</text>
<line x1="277.70" y1="407.00" x2="342.10" y2="407.00" stroke="#231f20" stroke-width="1.2" />
<line x1="278.30" y1="407.00" x2="278.30" y2="410.00" stroke="#231f20" stroke-width="1.2" />
<text x="278.30" y="417.30" font-size="8.2" text-anchor="middle" textLength="4.2" lengthAdjust="spacingAndGlyphs">0</text>
<line x1="299.40" y1="407.00" x2="299.40" y2="410.00" stroke="#231f20" stroke-width="1.2" />
<text x="299.40" y="417.30" font-size="8.2" text-anchor="middle" textLength="4.2" lengthAdjust="spacingAndGlyphs">5</text>
<line x1="320.50" y1="407.00" x2="320.50" y2="410.00" stroke="#231f20" stroke-width="1.2" />
<text x="320.50" y="417.30" font-size="8.2" text-anchor="middle" textLength="8.4" lengthAdjust="spacingAndGlyphs">10</text>
<line x1="341.60" y1="407.00" x2="341.60" y2="410.00" stroke="#231f20" stroke-width="1.2" />
<text x="341.60" y="417.30" font-size="8.2" text-anchor="middle" textLength="8.4" lengthAdjust="spacingAndGlyphs">15</text>
<text x="309.75" y="427.20" font-size="9.2" text-anchor="middle" textLength="19.6" lengthAdjust="spacingAndGlyphs">Days</text>
<text x="261.20" y="359.50" font-size="9.2" text-anchor="middle" transform="rotate(-90 261.20 359.50)">CD4<tspan font-size="5.8" dy="-3.3">+</tspan><tspan dy="3.3"> T-cell fold change</tspan></text>
<polyline points="278.3,391.3 291.0,390.5 307.8,389.7 320.5,393.5 337.4,393.5" fill="none" stroke="#3f51a8" stroke-width="1.1"/>
<circle cx="278.30" cy="391.28" r="2.5" fill="#3f51a8" />
<circle cx="290.96" cy="390.50" r="2.5" fill="#3f51a8" />
<circle cx="307.84" cy="389.71" r="2.5" fill="#3f51a8" />
<circle cx="320.50" cy="393.48" r="2.5" fill="#3f51a8" />
<circle cx="337.38" cy="393.48" r="2.5" fill="#3f51a8" />
<polyline points="278.3,391.3 291.0,392.1 307.8,391.0 320.5,394.1 337.4,394.4" fill="none" stroke="#a3713a" stroke-width="1.1"/>
<circle cx="278.30" cy="391.28" r="2.5" fill="#a3713a" />
<circle cx="290.96" cy="392.07" r="2.5" fill="#a3713a" />
<circle cx="307.84" cy="390.97" r="2.5" fill="#a3713a" />
<circle cx="320.50" cy="394.11" r="2.5" fill="#a3713a" />
<circle cx="337.38" cy="394.43" r="2.5" fill="#a3713a" />
<polyline points="278.3,391.3 291.0,393.6 307.8,394.7 320.5,396.3 337.4,393.5" fill="none" stroke="#6a2a78" stroke-width="1.1"/>
<circle cx="278.30" cy="391.28" r="2.5" fill="#6a2a78" />
<circle cx="290.96" cy="393.64" r="2.5" fill="#6a2a78" />
<circle cx="307.84" cy="394.74" r="2.5" fill="#6a2a78" />
<circle cx="320.50" cy="396.31" r="2.5" fill="#6a2a78" />
<circle cx="337.38" cy="393.48" r="2.5" fill="#6a2a78" />
<polyline points="278.3,391.3 291.0,394.7 307.8,394.1 320.5,396.0 337.4,397.6" fill="none" stroke="#bf4ea8" stroke-width="1.1"/>
<circle cx="278.30" cy="391.28" r="2.5" fill="#bf4ea8" />
<circle cx="290.96" cy="394.74" r="2.5" fill="#bf4ea8" />
<circle cx="307.84" cy="394.11" r="2.5" fill="#bf4ea8" />
<circle cx="320.50" cy="396.00" r="2.5" fill="#bf4ea8" />
<circle cx="337.38" cy="397.57" r="2.5" fill="#bf4ea8" />
<polyline points="278.3,391.3 291.0,394.1 307.8,393.2 320.5,394.4 337.4,398.2" fill="none" stroke="#e8202c" stroke-width="1.1"/>
<circle cx="278.30" cy="391.28" r="2.5" fill="#e8202c" />
<circle cx="290.96" cy="394.11" r="2.5" fill="#e8202c" />
<circle cx="307.84" cy="393.17" r="2.5" fill="#e8202c" />
<circle cx="320.50" cy="394.43" r="2.5" fill="#e8202c" />
<circle cx="337.38" cy="398.20" r="2.5" fill="#e8202c" />
<line x1="375.60" y1="312.10" x2="375.60" y2="407.70" stroke="#231f20" stroke-width="1.2" />
<line x1="372.60" y1="407.10" x2="375.60" y2="407.10" stroke="#231f20" stroke-width="1.2" />
<text x="371.90" y="409.60" font-size="7.0" text-anchor="end">0</text>
<line x1="372.60" y1="375.43" x2="375.60" y2="375.43" stroke="#231f20" stroke-width="1.2" />
<text x="371.90" y="377.93" font-size="7.0" text-anchor="end">2</text>
<line x1="372.60" y1="343.77" x2="375.60" y2="343.77" stroke="#231f20" stroke-width="1.2" />
<text x="371.90" y="346.27" font-size="7.0" text-anchor="end">4</text>
<line x1="372.60" y1="312.10" x2="375.60" y2="312.10" stroke="#231f20" stroke-width="1.2" />
<text x="371.90" y="314.60" font-size="7.0" text-anchor="end">6</text>
<line x1="375.00" y1="407.10" x2="439.25" y2="407.10" stroke="#231f20" stroke-width="1.2" />
<line x1="375.60" y1="407.10" x2="375.60" y2="410.10" stroke="#231f20" stroke-width="1.2" />
<text x="375.60" y="417.40" font-size="8.2" text-anchor="middle" textLength="4.2" lengthAdjust="spacingAndGlyphs">0</text>
<line x1="396.65" y1="407.10" x2="396.65" y2="410.10" stroke="#231f20" stroke-width="1.2" />
<text x="396.65" y="417.40" font-size="8.2" text-anchor="middle" textLength="4.2" lengthAdjust="spacingAndGlyphs">5</text>
<line x1="417.70" y1="407.10" x2="417.70" y2="410.10" stroke="#231f20" stroke-width="1.2" />
<text x="417.70" y="417.40" font-size="8.2" text-anchor="middle" textLength="8.4" lengthAdjust="spacingAndGlyphs">10</text>
<line x1="438.75" y1="407.10" x2="438.75" y2="410.10" stroke="#231f20" stroke-width="1.2" />
<text x="438.75" y="417.40" font-size="8.2" text-anchor="middle" textLength="8.4" lengthAdjust="spacingAndGlyphs">15</text>
<text x="406.98" y="427.20" font-size="9.2" text-anchor="middle" textLength="19.6" lengthAdjust="spacingAndGlyphs">Days</text>
<text x="359.40" y="359.00" font-size="9.2" text-anchor="middle" transform="rotate(-90 359.40 359.00)">CD8<tspan font-size="5.8" dy="-3.3">+</tspan><tspan dy="3.3"> T-cell fold change</tspan></text>
<line x1="405.07" y1="369.10" x2="405.07" y2="375.43" stroke="#bf4ea8" stroke-width="0.8" />
<line x1="403.47" y1="369.10" x2="406.67" y2="369.10" stroke="#bf4ea8" stroke-width="0.8" />
<line x1="403.47" y1="375.43" x2="406.67" y2="375.43" stroke="#bf4ea8" stroke-width="0.8" />
<line x1="417.70" y1="345.35" x2="417.70" y2="350.10" stroke="#bf4ea8" stroke-width="0.8" />
<line x1="416.10" y1="345.35" x2="419.30" y2="345.35" stroke="#bf4ea8" stroke-width="0.8" />
<line x1="416.10" y1="350.10" x2="419.30" y2="350.10" stroke="#bf4ea8" stroke-width="0.8" />
<line x1="434.54" y1="335.06" x2="434.54" y2="344.56" stroke="#bf4ea8" stroke-width="0.8" />
<line x1="432.94" y1="335.06" x2="436.14" y2="335.06" stroke="#bf4ea8" stroke-width="0.8" />
<line x1="432.94" y1="344.56" x2="436.14" y2="344.56" stroke="#bf4ea8" stroke-width="0.8" />
<polyline points="375.6,391.3 388.2,392.1 405.1,373.9 417.7,347.7 434.5,339.8" fill="none" stroke="#bf4ea8" stroke-width="1.1"/>
<circle cx="375.60" cy="391.27" r="2.5" fill="#bf4ea8" />
<circle cx="388.23" cy="392.06" r="2.5" fill="#bf4ea8" />
<circle cx="405.07" cy="373.85" r="2.5" fill="#bf4ea8" />
<circle cx="417.70" cy="347.73" r="2.5" fill="#bf4ea8" />
<circle cx="434.54" cy="339.81" r="2.5" fill="#bf4ea8" />
<line x1="417.70" y1="325.56" x2="417.70" y2="333.48" stroke="#a3713a" stroke-width="0.8" />
<line x1="416.10" y1="325.56" x2="419.30" y2="325.56" stroke="#a3713a" stroke-width="0.8" />
<line x1="416.10" y1="333.48" x2="419.30" y2="333.48" stroke="#a3713a" stroke-width="0.8" />
<line x1="434.54" y1="329.52" x2="434.54" y2="335.85" stroke="#a3713a" stroke-width="0.8" />
<line x1="432.94" y1="329.52" x2="436.14" y2="329.52" stroke="#a3713a" stroke-width="0.8" />
<line x1="432.94" y1="335.85" x2="436.14" y2="335.85" stroke="#a3713a" stroke-width="0.8" />
<polyline points="375.6,391.3 388.2,388.1 405.1,374.6 417.7,330.3 434.5,332.7" fill="none" stroke="#a3713a" stroke-width="1.1"/>
<circle cx="375.60" cy="391.27" r="2.5" fill="#a3713a" />
<circle cx="388.23" cy="388.10" r="2.5" fill="#a3713a" />
<circle cx="405.07" cy="374.64" r="2.5" fill="#a3713a" />
<circle cx="417.70" cy="330.31" r="2.5" fill="#a3713a" />
<circle cx="434.54" cy="332.68" r="2.5" fill="#a3713a" />
<line x1="417.70" y1="357.23" x2="417.70" y2="361.98" stroke="#3f51a8" stroke-width="0.8" />
<line x1="416.10" y1="357.23" x2="419.30" y2="357.23" stroke="#3f51a8" stroke-width="0.8" />
<line x1="416.10" y1="361.98" x2="419.30" y2="361.98" stroke="#3f51a8" stroke-width="0.8" />
<line x1="434.54" y1="367.52" x2="434.54" y2="378.60" stroke="#3f51a8" stroke-width="0.8" />
<line x1="432.94" y1="367.52" x2="436.14" y2="367.52" stroke="#3f51a8" stroke-width="0.8" />
<line x1="432.94" y1="378.60" x2="436.14" y2="378.60" stroke="#3f51a8" stroke-width="0.8" />
<polyline points="375.6,391.3 388.2,385.7 405.1,382.6 417.7,359.6 434.5,373.1" fill="none" stroke="#3f51a8" stroke-width="1.1"/>
<circle cx="375.60" cy="391.27" r="2.5" fill="#3f51a8" />
<circle cx="388.23" cy="385.73" r="2.5" fill="#3f51a8" />
<circle cx="405.07" cy="382.56" r="2.5" fill="#3f51a8" />
<circle cx="417.70" cy="359.60" r="2.5" fill="#3f51a8" />
<circle cx="434.54" cy="373.06" r="2.5" fill="#3f51a8" />
<line x1="434.54" y1="380.98" x2="434.54" y2="390.48" stroke="#6a2a78" stroke-width="0.8" />
<line x1="432.94" y1="380.98" x2="436.14" y2="380.98" stroke="#6a2a78" stroke-width="0.8" />
<line x1="432.94" y1="390.48" x2="436.14" y2="390.48" stroke="#6a2a78" stroke-width="0.8" />
<polyline points="375.6,391.3 388.2,389.7 405.1,387.6 417.7,381.0 434.5,385.7" fill="none" stroke="#6a2a78" stroke-width="1.1"/>
<circle cx="375.60" cy="391.27" r="2.5" fill="#6a2a78" />
<circle cx="388.23" cy="389.68" r="2.5" fill="#6a2a78" />
<circle cx="405.07" cy="387.62" r="2.5" fill="#6a2a78" />
<circle cx="417.70" cy="380.98" r="2.5" fill="#6a2a78" />
<circle cx="434.54" cy="385.73" r="2.5" fill="#6a2a78" />
<line x1="434.54" y1="394.12" x2="434.54" y2="397.28" stroke="#e8202c" stroke-width="0.8" />
<line x1="432.94" y1="394.12" x2="436.14" y2="394.12" stroke="#e8202c" stroke-width="0.8" />
<line x1="432.94" y1="397.28" x2="436.14" y2="397.28" stroke="#e8202c" stroke-width="0.8" />
<polyline points="375.6,391.3 388.2,390.5 405.1,391.3 417.7,392.4 434.5,395.7" fill="none" stroke="#e8202c" stroke-width="1.1"/>
<circle cx="375.60" cy="391.27" r="2.5" fill="#e8202c" />
<circle cx="388.23" cy="390.48" r="2.5" fill="#e8202c" />
<circle cx="405.07" cy="391.27" r="2.5" fill="#e8202c" />
<circle cx="417.70" cy="392.38" r="2.5" fill="#e8202c" />
<circle cx="434.54" cy="395.70" r="2.5" fill="#e8202c" />
<line x1="446.10" y1="330.60" x2="456.60" y2="330.60" stroke="#e8202c" stroke-width="1.1" />
<circle cx="451.30" cy="330.60" r="2.3" fill="#e8202c" />
<text x="460.30" y="333.30" font-size="7.9" textLength="14.6" lengthAdjust="spacingAndGlyphs">TDB</text>
<line x1="446.10" y1="343.67" x2="456.60" y2="343.67" stroke="#3f51a8" stroke-width="1.1" />
<circle cx="451.30" cy="343.67" r="2.3" fill="#3f51a8" />
<text x="460.30" y="346.37" font-size="7.9" textLength="36.8" lengthAdjust="spacingAndGlyphs">TDB + lena</text>
<line x1="446.10" y1="356.74" x2="456.60" y2="356.74" stroke="#a3713a" stroke-width="1.1" />
<circle cx="451.30" cy="356.74" r="2.3" fill="#a3713a" />
<text x="460.30" y="359.44" font-size="7.9" textLength="42.0" lengthAdjust="spacingAndGlyphs">TDB + poma</text>
<line x1="446.10" y1="369.81" x2="456.60" y2="369.81" stroke="#bf4ea8" stroke-width="1.1" />
<circle cx="451.30" cy="369.81" r="2.3" fill="#bf4ea8" />
<text x="460.30" y="372.51" font-size="7.9" textLength="35.2" lengthAdjust="spacingAndGlyphs">TDB + iber</text>
<line x1="446.10" y1="382.88" x2="456.60" y2="382.88" stroke="#6a2a78" stroke-width="1.1" />
<circle cx="451.30" cy="382.88" r="2.3" fill="#6a2a78" />
<text x="460.30" y="385.58" font-size="7.9" textLength="57.4" lengthAdjust="spacingAndGlyphs">TDB + CC-92480</text>
</svg>
</body></html>
